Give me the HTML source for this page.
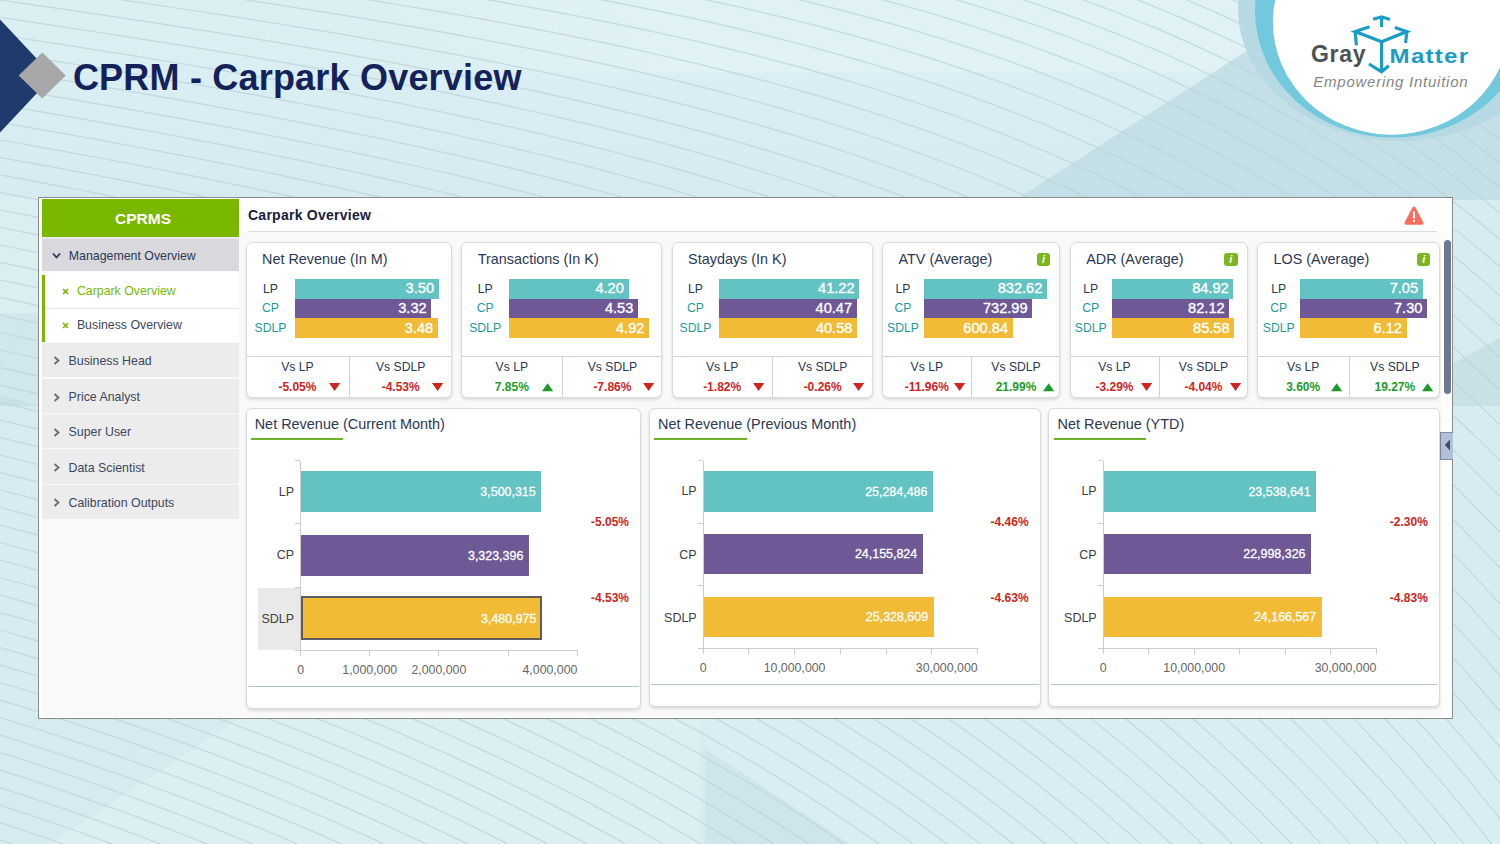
<!DOCTYPE html>
<html><head><meta charset="utf-8"><style>
html,body{margin:0;padding:0;}
body{width:1500px;height:844px;position:relative;overflow:hidden;font-family:"Liberation Sans", sans-serif;background:#d8edf2;}
</style></head><body>
<svg width="1500" height="844" style="position:absolute;left:0;top:0">
<defs><linearGradient id="tg" x1="0" y1="0" x2="0" y2="1"><stop offset="0" stop-color="#dcf0f4"/><stop offset="1" stop-color="#d6ebf0"/></linearGradient></defs>
<rect width="1500" height="844" fill="#d7ecf1"/>
<rect width="1500" height="200" fill="url(#tg)"/>
<defs><linearGradient id="bandg" x1="0" y1="0" x2="1" y2="0"><stop offset="0" stop-color="#e0f2f6" stop-opacity="0"/><stop offset="0.35" stop-color="#e0f2f6" stop-opacity="1"/></linearGradient></defs>
<polygon points="350,0 1300,0 1300,72 350,72" fill="url(#bandg)"/>
<polygon points="1020,197 1256,45 1500,45 1500,200 1020,200" fill="#c4dfe6"/>
<rect x="0" y="197" width="38" height="116" fill="#dbeff3"/>
<rect x="0" y="313" width="38" height="93" fill="#d0e7ed"/>
<polygon points="0,395 38,406 0,406" fill="#c8e1e7"/>
<polygon points="1452,314 1500,314 1500,338 1452,364" fill="#d5ebf0"/>
<polygon points="1452,364 1500,338 1500,406 1452,406" fill="#c7e1e7"/>
<polygon points="240,718 700,718 700,844 50,844" fill="#dcf0f4"/>
<polygon points="0,718 240,718 50,844 0,844" fill="#d5ebf0"/>
<polygon points="705,748 705,844 850,844" fill="#cde5eb"/>
<polygon points="850,844 1500,844 1500,718 700,718 705,748" fill="#d9eef3"/>
<g stroke="#bcd4da" stroke-width="1.2" fill="none" opacity="0.8"><polyline points="0,-367.5 20,-365.0 40,-362.5 60,-360.0 80,-357.5 100,-355.0 120,-352.5 140,-350.0 160,-347.5 180,-344.9 200,-342.4 220,-339.9 240,-337.4 260,-334.8 280,-332.2 300,-329.7 320,-327.1 340,-324.5 360,-321.8 380,-319.2 400,-316.5 420,-313.8 440,-311.0 460,-308.3 480,-305.5 500,-302.6 520,-299.7 540,-296.7 560,-293.7 580,-290.7 600,-287.6 620,-284.4 640,-281.1 660,-277.8 680,-274.4 700,-270.9 720,-267.4 740,-263.7 760,-259.9 780,-256.1 800,-252.1 820,-248.0 840,-243.8 860,-239.5 880,-235.0 900,-230.4 920,-225.7 940,-220.8 960,-215.7 980,-210.5 1000,-205.1 1020,-199.5 1040,-193.8 1060,-187.9 1080,-181.7 1100,-175.4 1120,-168.8 1140,-162.0 1160,-155.0 1180,-147.7 1200,-140.2 1220,-132.4 1240,-124.4 1260,-116.1 1280,-107.5 1300,-98.6 1320,-89.5 1340,-80.0 1360,-70.1 1380,-59.8 1400,-49.0 1420,-37.7 1440,-25.8 1460,-13.5 1480,-0.5 1500,13.0"/><polyline points="0,-350.0 20,-347.5 40,-345.0 60,-342.5 80,-340.0 100,-337.5 120,-335.0 140,-332.5 160,-330.0 180,-327.4 200,-324.9 220,-322.4 240,-319.9 260,-317.3 280,-314.7 300,-312.2 320,-309.6 340,-307.0 360,-304.3 380,-301.7 400,-299.0 420,-296.3 440,-293.5 460,-290.8 480,-288.0 500,-285.1 520,-282.2 540,-279.2 560,-276.2 580,-273.2 600,-270.1 620,-266.9 640,-263.6 660,-260.3 680,-256.9 700,-253.4 720,-249.9 740,-246.2 760,-242.4 780,-238.6 800,-234.6 820,-230.5 840,-226.3 860,-222.0 880,-217.5 900,-212.9 920,-208.2 940,-203.3 960,-198.2 980,-193.0 1000,-187.6 1020,-182.0 1040,-176.3 1060,-170.4 1080,-164.2 1100,-157.9 1120,-151.3 1140,-144.5 1160,-137.5 1180,-130.2 1200,-122.7 1220,-114.9 1240,-106.9 1260,-98.6 1280,-90.0 1300,-81.1 1320,-71.9 1340,-62.3 1360,-52.2 1380,-41.6 1400,-30.6 1420,-19.0 1440,-6.9 1460,5.7 1480,19.0 1500,32.8"/><polyline points="0,-332.5 20,-330.0 40,-327.5 60,-325.0 80,-322.5 100,-320.0 120,-317.5 140,-315.0 160,-312.5 180,-309.9 200,-307.4 220,-304.9 240,-302.4 260,-299.8 280,-297.2 300,-294.7 320,-292.1 340,-289.5 360,-286.8 380,-284.2 400,-281.5 420,-278.8 440,-276.0 460,-273.3 480,-270.5 500,-267.6 520,-264.7 540,-261.7 560,-258.7 580,-255.7 600,-252.6 620,-249.4 640,-246.1 660,-242.8 680,-239.4 700,-235.9 720,-232.4 740,-228.7 760,-224.9 780,-221.1 800,-217.1 820,-213.0 840,-208.8 860,-204.5 880,-200.0 900,-195.4 920,-190.7 940,-185.8 960,-180.7 980,-175.5 1000,-170.1 1020,-164.5 1040,-158.8 1060,-152.9 1080,-146.7 1100,-140.4 1120,-133.8 1140,-127.0 1160,-120.0 1180,-112.7 1200,-105.2 1220,-97.4 1240,-89.4 1260,-81.1 1280,-72.5 1300,-63.5 1320,-54.0 1340,-44.2 1360,-33.8 1380,-23.0 1400,-11.7 1420,0.1 1440,12.5 1460,25.4 1480,39.0 1500,53.1"/><polyline points="0,-315.0 20,-312.5 40,-310.0 60,-307.5 80,-305.0 100,-302.5 120,-300.0 140,-297.5 160,-295.0 180,-292.4 200,-289.9 220,-287.4 240,-284.9 260,-282.3 280,-279.7 300,-277.2 320,-274.6 340,-272.0 360,-269.3 380,-266.7 400,-264.0 420,-261.3 440,-258.5 460,-255.8 480,-253.0 500,-250.1 520,-247.2 540,-244.2 560,-241.2 580,-238.2 600,-235.1 620,-231.9 640,-228.6 660,-225.3 680,-221.9 700,-218.4 720,-214.9 740,-211.2 760,-207.4 780,-203.6 800,-199.6 820,-195.5 840,-191.3 860,-187.0 880,-182.5 900,-177.9 920,-173.2 940,-168.3 960,-163.2 980,-158.0 1000,-152.6 1020,-147.0 1040,-141.3 1060,-135.4 1080,-129.2 1100,-122.9 1120,-116.3 1140,-109.5 1160,-102.5 1180,-95.2 1200,-87.7 1220,-79.9 1240,-71.9 1260,-63.4 1280,-54.6 1300,-45.3 1320,-35.7 1340,-25.5 1360,-15.0 1380,-3.9 1400,7.7 1420,19.8 1440,32.5 1460,45.7 1480,59.5 1500,73.9"/><polyline points="0,-297.5 20,-295.0 40,-292.5 60,-290.0 80,-287.5 100,-285.0 120,-282.5 140,-280.0 160,-277.5 180,-274.9 200,-272.4 220,-269.9 240,-267.4 260,-264.8 280,-262.2 300,-259.7 320,-257.1 340,-254.5 360,-251.8 380,-249.2 400,-246.5 420,-243.8 440,-241.0 460,-238.3 480,-235.5 500,-232.6 520,-229.7 540,-226.7 560,-223.7 580,-220.7 600,-217.6 620,-214.4 640,-211.1 660,-207.8 680,-204.4 700,-200.9 720,-197.4 740,-193.7 760,-189.9 780,-186.1 800,-182.1 820,-178.0 840,-173.8 860,-169.5 880,-165.0 900,-160.4 920,-155.7 940,-150.8 960,-145.7 980,-140.5 1000,-135.1 1020,-129.5 1040,-123.8 1060,-117.9 1080,-111.7 1100,-105.4 1120,-98.8 1140,-92.0 1160,-85.0 1180,-77.7 1200,-70.1 1220,-62.2 1240,-53.9 1260,-45.3 1280,-36.2 1300,-26.7 1320,-16.8 1340,-6.4 1360,4.4 1380,15.8 1400,27.6 1420,40.0 1440,53.0 1460,66.5 1480,80.6 1500,95.3"/><polyline points="0,-280.0 20,-277.5 40,-275.0 60,-272.5 80,-270.0 100,-267.5 120,-265.0 140,-262.5 160,-260.0 180,-257.4 200,-254.9 220,-252.4 240,-249.9 260,-247.3 280,-244.7 300,-242.2 320,-239.6 340,-237.0 360,-234.3 380,-231.7 400,-229.0 420,-226.3 440,-223.5 460,-220.8 480,-218.0 500,-215.1 520,-212.2 540,-209.2 560,-206.2 580,-203.2 600,-200.1 620,-196.9 640,-193.6 660,-190.3 680,-186.9 700,-183.4 720,-179.9 740,-176.2 760,-172.4 780,-168.6 800,-164.6 820,-160.5 840,-156.3 860,-152.0 880,-147.5 900,-142.9 920,-138.2 940,-133.3 960,-128.2 980,-123.0 1000,-117.6 1020,-112.0 1040,-106.3 1060,-100.4 1080,-94.2 1100,-87.9 1120,-81.3 1140,-74.5 1160,-67.4 1180,-59.9 1200,-52.1 1220,-44.0 1240,-35.5 1260,-26.6 1280,-17.3 1300,-7.5 1320,2.7 1340,13.3 1360,24.4 1380,36.0 1400,48.2 1420,60.9 1440,74.1 1460,87.9 1480,102.3 1500,117.3"/><polyline points="0,-262.5 20,-260.0 40,-257.5 60,-255.0 80,-252.5 100,-250.0 120,-247.5 140,-245.0 160,-242.5 180,-239.9 200,-237.4 220,-234.9 240,-232.4 260,-229.8 280,-227.2 300,-224.7 320,-222.1 340,-219.5 360,-216.8 380,-214.2 400,-211.5 420,-208.8 440,-206.0 460,-203.3 480,-200.5 500,-197.6 520,-194.7 540,-191.7 560,-188.7 580,-185.7 600,-182.6 620,-179.4 640,-176.1 660,-172.8 680,-169.4 700,-165.9 720,-162.4 740,-158.7 760,-154.9 780,-151.1 800,-147.1 820,-143.0 840,-138.8 860,-134.5 880,-130.0 900,-125.4 920,-120.7 940,-115.8 960,-110.7 980,-105.5 1000,-100.1 1020,-94.5 1040,-88.8 1060,-82.9 1080,-76.7 1100,-70.3 1120,-63.6 1140,-56.6 1160,-49.3 1180,-41.6 1200,-33.6 1220,-25.2 1240,-16.4 1260,-7.3 1280,2.3 1300,12.3 1320,22.7 1340,33.6 1360,45.0 1380,56.9 1400,69.4 1420,82.3 1440,95.9 1460,110.0 1480,124.7 1500,140.1"/><polyline points="0,-245.0 20,-242.5 40,-240.0 60,-237.5 80,-235.0 100,-232.5 120,-230.0 140,-227.5 160,-225.0 180,-222.4 200,-219.9 220,-217.4 240,-214.9 260,-212.3 280,-209.7 300,-207.2 320,-204.6 340,-202.0 360,-199.3 380,-196.7 400,-194.0 420,-191.3 440,-188.5 460,-185.8 480,-183.0 500,-180.1 520,-177.2 540,-174.2 560,-171.2 580,-168.2 600,-165.1 620,-161.9 640,-158.6 660,-155.3 680,-151.9 700,-148.4 720,-144.9 740,-141.2 760,-137.4 780,-133.6 800,-129.6 820,-125.5 840,-121.3 860,-117.0 880,-112.5 900,-107.9 920,-103.2 940,-98.3 960,-93.2 980,-88.0 1000,-82.6 1020,-77.0 1040,-71.2 1060,-65.2 1080,-58.9 1100,-52.2 1120,-45.3 1140,-38.1 1160,-30.5 1180,-22.6 1200,-14.4 1220,-5.8 1240,3.2 1260,12.6 1280,22.5 1300,32.7 1320,43.5 1340,54.7 1360,66.3 1380,78.5 1400,91.3 1420,104.5 1440,118.4 1460,132.8 1480,147.9 1500,163.6"/><polyline points="0,-227.5 20,-225.0 40,-222.5 60,-220.0 80,-217.5 100,-215.0 120,-212.5 140,-210.0 160,-207.5 180,-204.9 200,-202.4 220,-199.9 240,-197.4 260,-194.8 280,-192.2 300,-189.7 320,-187.1 340,-184.5 360,-181.8 380,-179.2 400,-176.5 420,-173.8 440,-171.0 460,-168.3 480,-165.5 500,-162.6 520,-159.7 540,-156.7 560,-153.7 580,-150.7 600,-147.6 620,-144.4 640,-141.1 660,-137.8 680,-134.4 700,-130.9 720,-127.4 740,-123.7 760,-119.9 780,-116.1 800,-112.1 820,-108.0 840,-103.8 860,-99.5 880,-95.0 900,-90.4 920,-85.7 940,-80.8 960,-75.7 980,-70.4 1000,-64.9 1020,-59.2 1040,-53.2 1060,-46.9 1080,-40.4 1100,-33.5 1120,-26.4 1140,-18.9 1160,-11.1 1180,-3.0 1200,5.5 1220,14.4 1240,23.6 1260,33.3 1280,43.4 1300,53.9 1320,65.0 1340,76.4 1360,88.4 1380,100.9 1400,113.9 1420,127.5 1440,141.7 1460,156.5 1480,171.9 1500,188.0"/><polyline points="0,-210.0 20,-207.5 40,-205.0 60,-202.5 80,-200.0 100,-197.5 120,-195.0 140,-192.5 160,-190.0 180,-187.4 200,-184.9 220,-182.4 240,-179.9 260,-177.3 280,-174.7 300,-172.2 320,-169.6 340,-167.0 360,-164.3 380,-161.7 400,-159.0 420,-156.3 440,-153.5 460,-150.8 480,-148.0 500,-145.1 520,-142.2 540,-139.2 560,-136.2 580,-133.2 600,-130.1 620,-126.9 640,-123.6 660,-120.3 680,-116.9 700,-113.4 720,-109.9 740,-106.2 760,-102.4 780,-98.6 800,-94.6 820,-90.5 840,-86.3 860,-82.0 880,-77.5 900,-72.9 920,-68.1 940,-63.0 960,-57.8 980,-52.3 1000,-46.6 1020,-40.7 1040,-34.4 1060,-28.0 1080,-21.2 1100,-14.1 1120,-6.8 1140,0.9 1160,9.0 1180,17.4 1200,26.1 1220,35.3 1240,44.8 1260,54.7 1280,65.1 1300,76.0 1320,87.3 1340,99.0 1360,111.3 1380,124.1 1400,137.5 1420,151.4 1440,165.9 1460,181.1 1480,196.8 1500,213.2"/><polyline points="0,-192.5 20,-190.0 40,-187.5 60,-185.0 80,-182.5 100,-180.0 120,-177.5 140,-175.0 160,-172.5 180,-169.9 200,-167.4 220,-164.9 240,-162.4 260,-159.8 280,-157.2 300,-154.7 320,-152.1 340,-149.5 360,-146.8 380,-144.2 400,-141.5 420,-138.8 440,-136.0 460,-133.3 480,-130.5 500,-127.6 520,-124.7 540,-121.7 560,-118.7 580,-115.7 600,-112.6 620,-109.4 640,-106.1 660,-102.8 680,-99.4 700,-95.9 720,-92.4 740,-88.7 760,-84.9 780,-81.1 800,-77.1 820,-73.0 840,-68.7 860,-64.3 880,-59.6 900,-54.8 920,-49.8 940,-44.6 960,-39.1 980,-33.4 1000,-27.5 1020,-21.4 1040,-14.9 1060,-8.2 1080,-1.2 1100,6.1 1120,13.7 1140,21.7 1160,29.9 1180,38.6 1200,47.6 1220,57.0 1240,66.8 1260,77.1 1280,87.7 1300,98.9 1320,110.5 1340,122.6 1360,135.2 1380,148.3 1400,162.0 1420,176.3 1440,191.2 1460,206.7 1480,222.8 1500,239.6"/><polyline points="0,-175.0 20,-172.5 40,-170.0 60,-167.5 80,-165.0 100,-162.5 120,-160.0 140,-157.5 160,-155.0 180,-152.4 200,-149.9 220,-147.4 240,-144.9 260,-142.3 280,-139.7 300,-137.2 320,-134.6 340,-132.0 360,-129.3 380,-126.7 400,-124.0 420,-121.3 440,-118.5 460,-115.8 480,-113.0 500,-110.1 520,-107.2 540,-104.2 560,-101.2 580,-98.2 600,-95.1 620,-91.9 640,-88.6 660,-85.3 680,-81.9 700,-78.4 720,-74.9 740,-71.1 760,-67.3 780,-63.3 800,-59.2 820,-54.9 840,-50.4 860,-45.8 880,-41.0 900,-35.9 920,-30.7 940,-25.3 960,-19.6 980,-13.7 1000,-7.6 1020,-1.2 1040,5.5 1060,12.4 1080,19.6 1100,27.2 1120,35.1 1140,43.3 1160,51.8 1180,60.8 1200,70.0 1220,79.7 1240,89.8 1260,100.4 1280,111.4 1300,122.8 1320,134.7 1340,147.2 1360,160.1 1380,173.6 1400,187.6 1420,202.3 1440,217.5 1460,233.4 1480,249.9 1500,267.1"/><polyline points="0,-157.5 20,-155.0 40,-152.5 60,-150.0 80,-147.5 100,-145.0 120,-142.5 140,-140.0 160,-137.5 180,-134.9 200,-132.4 220,-129.9 240,-127.4 260,-124.8 280,-122.2 300,-119.7 320,-117.1 340,-114.5 360,-111.8 380,-109.2 400,-106.5 420,-103.8 440,-101.0 460,-98.3 480,-95.5 500,-92.6 520,-89.7 540,-86.7 560,-83.7 580,-80.7 600,-77.6 620,-74.4 640,-71.1 660,-67.7 680,-64.2 700,-60.5 720,-56.8 740,-52.9 760,-48.9 780,-44.7 800,-40.4 820,-35.9 840,-31.3 860,-26.4 880,-21.4 900,-16.2 920,-10.8 940,-5.1 960,0.8 980,6.9 1000,13.2 1020,19.9 1040,26.8 1060,34.0 1080,41.5 1100,49.3 1120,57.4 1140,65.9 1160,74.7 1180,83.9 1200,93.5 1220,103.5 1240,113.9 1260,124.8 1280,136.1 1300,147.8 1320,160.1 1340,172.9 1360,186.2 1380,200.0 1400,214.4 1420,229.4 1440,245.1 1460,261.3 1480,278.2 1500,295.8"/><polyline points="0,-140.0 20,-137.5 40,-135.0 60,-132.5 80,-130.0 100,-127.5 120,-125.0 140,-122.5 160,-120.0 180,-117.4 200,-114.9 220,-112.4 240,-109.9 260,-107.3 280,-104.7 300,-102.2 320,-99.6 340,-97.0 360,-94.3 380,-91.7 400,-89.0 420,-86.3 440,-83.5 460,-80.8 480,-78.0 500,-75.1 520,-72.2 540,-69.1 560,-66.1 580,-62.9 600,-59.6 620,-56.3 640,-52.8 660,-49.3 680,-45.6 700,-41.8 720,-37.9 740,-33.8 760,-29.6 780,-25.2 800,-20.7 820,-16.1 840,-11.2 860,-6.2 880,-0.9 900,4.5 920,10.2 940,16.0 960,22.1 980,28.5 1000,35.1 1020,42.0 1040,49.2 1060,56.6 1080,64.4 1100,72.5 1120,80.9 1140,89.6 1160,98.8 1180,108.3 1200,118.2 1220,128.5 1240,139.2 1260,150.4 1280,162.0 1300,174.1 1320,186.7 1340,199.8 1360,213.5 1380,227.7 1400,242.5 1420,257.9 1440,274.0 1460,290.6 1480,308.0 1500,326.0"/><polyline points="0,-122.5 20,-120.0 40,-117.5 60,-115.0 80,-112.5 100,-110.0 120,-107.5 140,-105.0 160,-102.5 180,-99.9 200,-97.4 220,-94.9 240,-92.4 260,-89.8 280,-87.2 300,-84.7 320,-82.1 340,-79.5 360,-76.8 380,-74.2 400,-71.4 420,-68.7 440,-65.8 460,-63.0 480,-60.0 500,-57.0 520,-53.9 540,-50.8 560,-47.5 580,-44.2 600,-40.8 620,-37.3 640,-33.7 660,-29.9 680,-26.1 700,-22.1 720,-18.0 740,-13.8 760,-9.4 780,-4.8 800,-0.1 820,4.8 840,9.9 860,15.1 880,20.6 900,26.2 920,32.1 940,38.2 960,44.6 980,51.2 1000,58.0 1020,65.2 1040,72.6 1060,80.3 1080,88.4 1100,96.8 1120,105.5 1140,114.5 1160,124.0 1180,133.8 1200,144.0 1220,154.6 1240,165.7 1260,177.2 1280,189.2 1300,201.7 1320,214.6 1340,228.1 1360,242.2 1380,256.8 1400,272.0 1420,287.8 1440,304.3 1460,321.4 1480,339.2 1500,357.7"/><polyline points="0,-105.0 20,-102.5 40,-100.0 60,-97.5 80,-95.0 100,-92.5 120,-90.0 140,-87.5 160,-85.0 180,-82.4 200,-79.9 220,-77.4 240,-74.8 260,-72.3 280,-69.7 300,-67.0 320,-64.3 340,-61.6 360,-58.9 380,-56.1 400,-53.2 420,-50.3 440,-47.4 460,-44.4 480,-41.3 500,-38.1 520,-34.9 540,-31.6 560,-28.2 580,-24.7 600,-21.1 620,-17.4 640,-13.6 660,-9.7 680,-5.7 700,-1.5 720,2.8 740,7.2 760,11.8 780,16.6 800,21.5 820,26.6 840,31.9 860,37.4 880,43.1 900,49.0 920,55.1 940,61.4 960,68.1 980,74.9 1000,82.0 1020,89.5 1040,97.2 1060,105.2 1080,113.5 1100,122.2 1120,131.2 1140,140.6 1160,150.3 1180,160.5 1200,171.0 1220,182.0 1240,193.4 1260,205.3 1280,217.6 1300,230.5 1320,243.8 1340,257.7 1360,272.2 1380,287.2 1400,302.8 1420,319.1 1440,336.0 1460,353.5 1480,371.8 1500,390.8"/><polyline points="0,-87.5 20,-85.0 40,-82.5 60,-80.0 80,-77.5 100,-75.0 120,-72.5 140,-69.9 160,-67.3 180,-64.8 200,-62.2 220,-59.5 240,-56.9 260,-54.2 280,-51.4 300,-48.7 320,-45.9 340,-43.1 360,-40.2 380,-37.2 400,-34.3 420,-31.2 440,-28.1 460,-25.0 480,-21.7 500,-18.4 520,-15.0 540,-11.6 560,-8.0 580,-4.3 600,-0.6 620,3.3 640,7.3 660,11.4 680,15.6 700,19.9 720,24.4 740,29.1 760,33.9 780,38.9 800,44.0 820,49.3 840,54.9 860,60.6 880,66.5 900,72.6 920,79.0 940,85.6 960,92.5 980,99.6 1000,107.1 1020,114.8 1040,122.8 1060,131.1 1080,139.7 1100,148.7 1120,158.0 1140,167.7 1160,177.8 1180,188.3 1200,199.2 1220,210.5 1240,222.3 1260,234.5 1280,247.3 1300,260.5 1320,274.3 1340,288.6 1360,303.5 1380,318.9 1400,335.0 1420,351.7 1440,369.0 1460,387.1 1480,405.8 1500,425.3"/><polyline points="0,-70.0 20,-67.5 40,-64.9 60,-62.3 80,-59.7 100,-57.1 120,-54.5 140,-51.9 160,-49.2 180,-46.5 200,-43.8 220,-41.1 240,-38.3 260,-35.5 280,-32.6 300,-29.8 320,-26.8 340,-23.9 360,-20.9 380,-17.8 400,-14.7 420,-11.5 440,-8.2 460,-4.9 480,-1.5 500,1.9 520,5.5 540,9.1 560,12.8 580,16.7 600,20.6 620,24.7 640,28.8 660,33.1 680,37.5 700,42.1 720,46.8 740,51.7 760,56.7 780,61.9 800,67.2 820,72.8 840,78.6 860,84.5 880,90.7 900,97.1 920,103.7 940,110.6 960,117.8 980,125.2 1000,132.9 1020,140.9 1040,149.2 1060,157.8 1080,166.7 1100,176.0 1120,185.7 1140,195.7 1160,206.2 1180,217.0 1200,228.3 1220,240.0 1240,252.1 1260,264.7 1280,277.9 1300,291.5 1320,305.7 1340,320.4 1360,335.7 1380,351.7 1400,368.2 1420,385.3 1440,403.2 1460,421.7 1480,440.9 1500,460.9"/><polyline points="0,-52.5 20,-49.9 40,-47.2 60,-44.6 80,-41.9 100,-39.2 120,-36.5 140,-33.7 160,-31.0 180,-28.2 200,-25.4 220,-22.5 240,-19.6 260,-16.7 280,-13.8 300,-10.7 320,-7.7 340,-4.6 360,-1.5 380,1.7 400,5.0 420,8.3 440,11.7 460,15.2 480,18.7 500,22.4 520,26.1 540,29.9 560,33.8 580,37.8 600,41.9 620,46.1 640,50.5 660,55.0 680,59.6 700,64.4 720,69.3 740,74.3 760,79.6 780,85.0 800,90.6 820,96.4 840,102.4 860,108.6 880,115.0 900,121.7 920,128.6 940,135.7 960,143.1 980,150.8 1000,158.8 1020,167.1 1040,175.7 1060,184.6 1080,193.9 1100,203.5 1120,213.5 1140,223.9 1160,234.7 1180,245.9 1200,257.5 1220,269.5 1240,282.1 1260,295.1 1280,308.6 1300,322.7 1320,337.3 1340,352.4 1360,368.2 1380,384.5 1400,401.5 1420,419.2 1440,437.5 1460,456.5 1480,476.2 1500,496.7"/><polyline points="0,-35.0 20,-32.3 40,-29.6 60,-26.8 80,-24.1 100,-21.3 120,-18.5 140,-15.6 160,-12.8 180,-9.9 200,-6.9 220,-4.0 240,-1.0 260,2.1 280,5.1 300,8.3 320,11.4 340,14.7 360,17.9 380,21.3 400,24.7 420,28.2 440,31.7 460,35.3 480,39.0 500,42.8 520,46.7 540,50.7 560,54.7 580,58.9 600,63.2 620,67.6 640,72.2 660,76.8 680,81.7 700,86.6 720,91.7 740,97.0 760,102.5 780,108.1 800,114.0 820,120.0 840,126.2 860,132.7 880,139.3 900,146.3 920,153.4 940,160.8 960,168.5 980,176.5 1000,184.8 1020,193.4 1040,202.3 1060,211.5 1080,221.1 1100,231.0 1120,241.3 1140,252.0 1160,263.2 1180,274.7 1200,286.7 1220,299.1 1240,312.1 1260,325.5 1280,339.4 1300,353.9 1320,368.9 1340,384.5 1360,400.6 1380,417.4 1400,434.9 1420,453.0 1440,471.8 1460,491.3 1480,511.5 1500,532.5"/><polyline points="0,-17.5 20,-14.7 40,-11.9 60,-9.1 80,-6.2 100,-3.3 120,-0.4 140,2.5 160,5.5 180,8.5 200,11.5 220,14.6 240,17.7 260,20.8 280,24.0 300,27.3 320,30.6 340,33.9 360,37.4 380,40.8 400,44.4 420,48.0 440,51.7 460,55.4 480,59.3 500,63.2 520,67.3 540,71.4 560,75.7 580,80.0 600,84.5 620,89.1 640,93.8 660,98.7 680,103.7 700,108.9 720,114.2 740,119.7 760,125.4 780,131.2 800,137.3 820,143.6 840,150.0 860,156.7 880,163.7 900,170.8 920,178.3 940,185.9 960,193.9 980,202.2 1000,210.7 1020,219.6 1040,228.8 1060,238.3 1080,248.2 1100,258.5 1120,269.2 1140,280.2 1160,291.7 1180,303.6 1200,315.9 1220,328.7 1240,342.0 1260,355.8 1280,370.2 1300,385.0 1320,400.5 1340,416.5 1360,433.1 1380,450.3 1400,468.2 1420,486.8 1440,506.1 1460,526.1 1480,546.8 1500,568.3"/><polyline points="0,0.0 20,2.9 40,5.8 60,8.7 80,11.6 100,14.6 120,17.6 140,20.6 160,23.7 180,26.8 200,29.9 220,33.1 240,36.3 260,39.6 280,42.9 300,46.3 320,49.7 340,53.2 360,56.8 380,60.4 400,64.1 420,67.8 440,71.7 460,75.6 480,79.6 500,83.7 520,87.9 540,92.2 560,96.6 580,101.1 600,105.8 620,110.6 640,115.5 660,120.6 680,125.8 700,131.2 720,136.7 740,142.4 760,148.3 780,154.4 800,160.7 820,167.1 840,173.9 860,180.8 880,188.0 900,195.4 920,203.1 940,211.0 960,219.3 980,227.8 1000,236.7 1020,245.8 1040,255.3 1060,265.2 1080,275.4 1100,286.0 1120,297.0 1140,308.4 1160,320.2 1180,332.4 1200,345.1 1220,358.3 1240,372.0 1260,386.2 1280,400.9 1300,416.2 1320,432.0 1340,448.5 1360,465.5 1380,483.2 1400,501.6 1420,520.6 1440,540.4 1460,560.8 1480,582.1 1500,604.1"/><polyline points="0,17.5 20,20.4 40,23.4 60,26.4 80,29.5 100,32.5 120,35.6 140,38.8 160,41.9 180,45.1 200,48.4 220,51.7 240,55.0 260,58.4 280,61.8 300,65.3 320,68.9 340,72.5 360,76.2 380,79.9 400,83.7 420,87.6 440,91.6 460,95.7 480,99.9 500,104.1 520,108.5 540,113.0 560,117.6 580,122.3 600,127.1 620,132.1 640,137.2 660,142.4 680,147.8 700,153.4 720,159.2 740,165.1 760,171.2 780,177.5 800,184.0 820,190.7 840,197.7 860,204.9 880,212.3 900,220.0 920,227.9 940,236.2 960,244.7 980,253.5 1000,262.6 1020,272.1 1040,281.9 1060,292.0 1080,302.6 1100,313.5 1120,324.8 1140,336.5 1160,348.7 1180,361.3 1200,374.4 1220,387.9 1240,402.0 1260,416.6 1280,431.7 1300,447.4 1320,463.6 1340,480.5 1360,498.0 1380,516.1 1400,534.9 1420,554.4 1440,574.7 1460,595.6 1480,617.4 1500,639.9"/><polyline points="0,35.0 20,38.0 40,41.1 60,44.2 80,47.3 100,50.5 120,53.6 140,56.9 160,60.1 180,63.5 200,66.8 220,70.2 240,73.7 260,77.2 280,80.7 300,84.3 320,88.0 340,91.8 360,95.6 380,99.5 400,103.4 420,107.5 440,111.6 460,115.8 480,120.1 500,124.6 520,129.1 540,133.7 560,138.5 580,143.4 600,148.4 620,153.5 640,158.8 660,164.3 680,169.9 700,175.7 720,181.6 740,187.8 760,194.1 780,200.6 800,207.4 820,214.3 840,221.5 860,228.9 880,236.6 900,244.6 920,252.8 940,261.3 960,270.1 980,279.2 1000,288.6 1020,298.3 1040,308.4 1060,318.9 1080,329.7 1100,341.0 1120,352.6 1140,364.7 1160,377.2 1180,390.1 1200,403.6 1220,417.5 1240,431.9 1260,446.9 1280,462.4 1300,478.5 1320,495.2 1340,512.5 1360,530.4 1380,549.0 1400,568.3 1420,588.2 1440,609.0 1460,630.4 1480,652.7 1500,675.7"/><polyline points="0,52.5 20,55.6 40,58.8 60,61.9 80,65.1 100,68.4 120,71.7 140,75.0 160,78.4 180,81.8 200,85.2 220,88.8 240,92.3 260,95.9 280,99.6 300,103.4 320,107.2 340,111.0 360,115.0 380,119.0 400,123.1 420,127.3 440,131.6 460,136.0 480,140.4 500,145.0 520,149.7 540,154.5 560,159.4 580,164.5 600,169.7 620,175.0 640,180.5 660,186.2 680,192.0 700,197.9 720,204.1 740,210.4 760,217.0 780,223.7 800,230.7 820,237.9 840,245.3 860,253.0 880,260.9 900,269.1 920,277.6 940,286.4 960,295.4 980,304.8 1000,314.5 1020,324.6 1040,335.0 1060,345.8 1080,356.9 1100,368.5 1120,380.4 1140,392.8 1160,405.7 1180,419.0 1200,432.8 1220,447.1 1240,461.9 1260,477.3 1280,493.2 1300,509.7 1320,526.8 1340,544.5 1360,562.9 1380,581.9 1400,601.6 1420,622.1 1440,643.3 1460,665.2 1480,688.0 1500,711.5"/><polyline points="0,70.0 20,73.2 40,76.4 60,79.7 80,83.0 100,86.3 120,89.7 140,93.1 160,96.6 180,100.1 200,103.7 220,107.3 240,111.0 260,114.7 280,118.5 300,122.4 320,126.3 340,130.3 360,134.4 380,138.5 400,142.8 420,147.1 440,151.6 460,156.1 480,160.7 500,165.4 520,170.3 540,175.3 560,180.4 580,185.6 600,191.0 620,196.5 640,202.2 660,208.0 680,214.0 700,220.2 720,226.6 740,233.1 760,239.9 780,246.9 800,254.1 820,261.5 840,269.2 860,277.1 880,285.3 900,293.7 920,302.4 940,311.5 960,320.8 980,330.5 1000,340.5 1020,350.8 1040,361.5 1060,372.6 1080,384.1 1100,396.0 1120,408.3 1140,421.0 1160,434.2 1180,447.9 1200,462.0 1220,476.7 1240,491.9 1260,507.6 1280,523.9 1300,540.9 1320,558.4 1340,576.5 1360,595.3 1380,614.8 1400,635.0 1420,655.9 1440,677.6 1460,700.0 1480,723.3 1500,747.4"/><polyline points="0,87.5 20,90.8 40,94.1 60,97.4 80,100.8 100,104.3 120,107.7 140,111.3 160,114.8 180,118.4 200,122.1 220,125.9 240,129.6 260,133.5 280,137.4 300,141.4 320,145.5 340,149.6 360,153.8 380,158.1 400,162.5 420,167.0 440,171.5 460,176.2 480,181.0 500,185.9 520,190.9 540,196.0 560,201.3 580,206.7 600,212.3 620,218.0 640,223.9 660,229.9 680,236.1 700,242.5 720,249.0 740,255.8 760,262.8 780,270.0 800,277.4 820,285.1 840,293.0 860,301.1 880,309.6 900,318.3 920,327.3 940,336.6 960,346.2 980,356.1 1000,366.4 1020,377.1 1040,388.1 1060,399.5 1080,411.2 1100,423.5 1120,436.1 1140,449.2 1160,462.7 1180,476.7 1200,491.2 1220,506.3 1240,521.9 1260,538.0 1280,554.7 1300,572.0 1320,589.9 1340,608.5 1360,627.8 1380,647.7 1400,668.3 1420,689.7 1440,711.8 1460,734.8 1480,758.5 1500,783.2"/><polyline points="0,105.0 20,108.4 40,111.7 60,115.2 80,118.7 100,122.2 120,125.8 140,129.4 160,133.0 180,136.8 200,140.6 220,144.4 240,148.3 260,152.3 280,156.3 300,160.4 320,164.6 340,168.9 360,173.2 380,177.6 400,182.2 420,186.8 440,191.5 460,196.3 480,201.3 500,206.3 520,211.5 540,216.8 560,222.3 580,227.8 600,233.6 620,239.5 640,245.5 660,251.7 680,258.1 700,264.7 720,271.5 740,278.5 760,285.7 780,293.1 800,300.8 820,308.7 840,316.8 860,325.2 880,333.9 900,342.9 920,352.1 940,361.7 960,371.6 980,381.8 1000,392.4 1020,403.3 1040,414.6 1060,426.3 1080,438.4 1100,450.9 1120,463.9 1140,477.3 1160,491.2 1180,505.6 1200,520.5 1220,535.9 1240,551.8 1260,568.4 1280,585.5 1300,603.2 1320,621.5 1340,640.5 1360,660.2 1380,680.6 1400,701.7 1420,723.5 1440,746.1 1460,769.6 1480,793.8 1500,819.0"/><polyline points="0,122.5 20,125.9 40,129.4 60,132.9 80,136.5 100,140.1 120,143.8 140,147.5 160,151.3 180,155.1 200,159.0 220,162.9 240,167.0 260,171.0 280,175.2 300,179.4 320,183.7 340,188.1 360,192.6 380,197.2 400,201.8 420,206.6 440,211.5 460,216.5 480,221.6 500,226.8 520,232.1 540,237.6 560,243.2 580,249.0 600,254.9 620,261.0 640,267.2 660,273.6 680,280.2 700,287.0 720,294.0 740,301.2 760,308.6 780,316.2 800,324.1 820,332.2 840,340.6 860,349.3 880,358.2 900,367.4 920,377.0 940,386.8 960,397.0 980,407.5 1000,418.3 1020,429.5 1040,441.2 1060,453.2 1080,465.6 1100,478.4 1120,491.7 1140,505.5 1160,519.7 1180,534.4 1200,549.7 1220,565.5 1240,581.8 1260,598.7 1280,616.2 1300,634.3 1320,653.1 1340,672.5 1360,692.6 1380,713.5 1400,735.0 1420,757.3 1440,780.4 1460,804.4 1480,829.1 1500,854.7"/><polyline points="0,140.0 20,143.5 40,147.1 60,150.7 80,154.3 100,158.0 120,161.8 140,165.6 160,169.5 180,173.4 200,177.4 220,181.5 240,185.6 260,189.8 280,194.1 300,198.4 320,202.9 340,207.4 360,212.0 380,216.7 400,221.5 420,226.4 440,231.5 460,236.6 480,241.8 500,247.2 520,252.7 540,258.4 560,264.1 580,270.1 600,276.2 620,282.4 640,288.9 660,295.5 680,302.3 700,309.3 720,316.5 740,323.9 760,331.5 780,339.4 800,347.5 820,355.8 840,364.5 860,373.3 880,382.5 900,392.0 920,401.8 940,411.9 960,422.3 980,433.1 1000,444.3 1020,455.8 1040,467.7 1060,480.0 1080,492.8 1100,505.9 1120,519.5 1140,533.6 1160,548.2 1180,563.3 1200,578.9 1220,595.1 1240,611.8 1260,629.1 1280,647.0 1300,665.5 1320,684.7 1340,704.5 1360,725.1 1380,746.4 1400,768.4 1420,791.2 1440,814.7 1460,839.2 1480,864.3 1500,890.0"/><polyline points="0,157.5 20,161.1 40,164.7 60,168.4 80,172.2 100,176.0 120,179.8 140,183.8 160,187.7 180,191.8 200,195.9 220,200.0 240,204.3 260,208.6 280,213.0 300,217.5 320,222.0 340,226.7 360,231.4 380,236.3 400,241.2 420,246.3 440,251.4 460,256.7 480,262.1 500,267.6 520,273.3 540,279.1 560,285.1 580,291.2 600,297.5 620,303.9 640,310.5 660,317.3 680,324.3 700,331.5 720,338.9 740,346.6 760,354.4 780,362.5 800,370.8 820,379.4 840,388.3 860,397.4 880,406.8 900,416.6 920,426.6 940,437.0 960,447.7 980,458.8 1000,470.2 1020,482.0 1040,494.2 1060,506.9 1080,519.9 1100,533.4 1120,547.4 1140,561.8 1160,576.7 1180,592.2 1200,608.1 1220,624.7 1240,641.8 1260,659.4 1280,677.7 1300,696.7 1320,716.3 1340,736.6 1360,757.5 1380,779.2 1400,801.7 1420,825.0 1440,849.0 1460,873.7 1480,898.9 1500,924.6"/><polyline points="0,175.0 20,178.7 40,182.4 60,186.2 80,190.0 100,193.9 120,197.9 140,201.9 160,206.0 180,210.1 200,214.3 220,218.6 240,222.9 260,227.4 280,231.9 300,236.5 320,241.2 340,246.0 360,250.8 380,255.8 400,260.9 420,266.1 440,271.4 460,276.8 480,282.4 500,288.1 520,293.9 540,299.9 560,306.0 580,312.3 600,318.8 620,325.4 640,332.2 660,339.2 680,346.4 700,353.8 720,361.4 740,369.2 760,377.3 780,385.6 800,394.2 820,403.0 840,412.1 860,421.5 880,431.2 900,441.2 920,451.5 940,462.1 960,473.1 980,484.4 1000,496.2 1020,508.3 1040,520.8 1060,533.7 1080,547.1 1100,560.9 1120,575.2 1140,590.0 1160,605.2 1180,621.0 1200,637.4 1220,654.3 1240,671.7 1260,689.8 1280,708.5 1300,727.8 1320,747.9 1340,768.6 1360,790.0 1380,812.1 1400,835.1 1420,858.7 1440,882.9 1460,907.6 1480,932.8 1500,958.5"/><polyline points="0,192.5 20,196.3 40,200.1 60,203.9 80,207.9 100,211.8 120,215.9 140,220.0 160,224.2 180,228.4 200,232.7 220,237.1 240,241.6 260,246.1 280,250.8 300,255.5 320,260.3 340,265.2 360,270.2 380,275.4 400,280.6 420,285.9 440,291.4 460,297.0 480,302.7 500,308.5 520,314.5 540,320.7 560,327.0 580,333.4 600,340.1 620,346.9 640,353.9 660,361.1 680,368.5 700,376.1 720,383.9 740,391.9 760,400.2 780,408.7 800,417.5 820,426.6 840,435.9 860,445.6 880,455.5 900,465.7 920,476.3 940,487.2 960,498.5 980,510.1 1000,522.1 1020,534.5 1040,547.3 1060,560.6 1080,574.3 1100,588.4 1120,603.0 1140,618.1 1160,633.7 1180,649.9 1200,666.6 1220,683.8 1240,701.7 1260,720.2 1280,739.3 1300,759.0 1320,779.4 1340,800.6 1360,822.4 1380,845.0 1400,868.3 1420,892.0 1440,916.2 1460,940.9 1480,966.0 1500,991.7"/><polyline points="0,210.0 20,213.8 40,217.7 60,221.7 80,225.7 100,229.8 120,233.9 140,238.1 160,242.4 180,246.8 200,251.2 220,255.7 240,260.3 260,264.9 280,269.7 300,274.5 320,279.5 340,284.5 360,289.6 380,294.9 400,300.3 420,305.7 440,311.4 460,317.1 480,323.0 500,329.0 520,335.1 540,341.4 560,347.9 580,354.5 600,361.4 620,368.4 640,375.5 660,382.9 680,390.5 700,398.3 720,406.3 740,414.6 760,423.1 780,431.9 800,440.9 820,450.2 840,459.8 860,469.6 880,479.8 900,490.3 920,501.1 940,512.3 960,523.9 980,535.8 1000,548.1 1020,560.8 1040,573.9 1060,587.4 1080,601.4 1100,615.9 1120,630.8 1140,646.3 1160,662.2 1180,678.7 1200,695.8 1220,713.4 1240,731.7 1260,750.5 1280,770.0 1300,790.2 1320,811.0 1340,832.6 1360,854.8 1380,877.6 1400,900.8 1420,924.5 1440,948.7 1460,973.4 1480,998.6 1500,1024.3"/><polyline points="0,227.5 20,231.4 40,235.4 60,239.4 80,243.5 100,247.7 120,251.9 140,256.3 160,260.6 180,265.1 200,269.6 220,274.2 240,278.9 260,283.7 280,288.6 300,293.5 320,298.6 340,303.8 360,309.1 380,314.4 400,319.9 420,325.6 440,331.3 460,337.2 480,343.2 500,349.4 520,355.7 540,362.2 560,368.9 580,375.7 600,382.7 620,389.8 640,397.2 660,404.8 680,412.6 700,420.6 720,428.8 740,437.3 760,446.0 780,455.0 800,464.2 820,473.8 840,483.6 860,493.7 880,504.1 900,514.9 920,526.0 940,537.4 960,549.2 980,561.4 1000,574.0 1020,587.0 1040,600.4 1060,614.3 1080,628.6 1100,643.4 1120,658.7 1140,674.4 1160,690.7 1180,707.6 1200,725.0 1220,743.0 1240,761.6 1260,780.9 1280,800.8 1300,821.3 1320,842.6 1340,864.5 1360,886.8 1380,909.6 1400,932.8 1420,956.5 1440,980.7 1460,1005.4 1480,1030.6 1500,1056.3"/><polyline points="0,245.0 20,249.0 40,253.1 60,257.2 80,261.4 100,265.6 120,270.0 140,274.4 160,278.9 180,283.4 200,288.0 220,292.8 240,297.6 260,302.5 280,307.5 300,312.6 320,317.7 340,323.0 360,328.5 380,334.0 400,339.6 420,345.4 440,351.3 460,357.3 480,363.5 500,369.8 520,376.3 540,383.0 560,389.8 580,396.8 600,404.0 620,411.3 640,418.9 660,426.6 680,434.6 700,442.8 720,451.3 740,460.0 760,468.9 780,478.1 800,487.6 820,497.3 840,507.4 860,517.8 880,528.4 900,539.5 920,550.8 940,562.5 960,574.6 980,587.1 1000,600.0 1020,613.3 1040,627.0 1060,641.1 1080,655.8 1100,670.9 1120,686.5 1140,702.6 1160,719.3 1180,736.5 1200,754.2 1220,772.6 1240,791.6 1260,811.2 1280,831.5 1300,852.5 1320,873.9 1340,895.8 1360,918.1 1380,940.9 1400,964.1 1420,987.9 1440,1012.0 1460,1036.7 1480,1061.9 1500,1087.6"/><polyline points="0,262.5 20,266.6 40,270.7 60,274.9 80,279.2 100,283.6 120,288.0 140,292.5 160,297.1 180,301.7 200,306.5 220,311.3 240,316.2 260,321.2 280,326.4 300,331.6 320,336.9 340,342.3 360,347.9 380,353.5 400,359.3 420,365.2 440,371.3 460,377.5 480,383.8 500,390.3 520,396.9 540,403.7 560,410.7 580,417.9 600,425.3 620,432.8 640,440.6 660,448.5 680,456.7 700,465.1 720,473.8 740,482.7 760,491.8 780,501.2 800,510.9 820,520.9 840,531.2 860,541.8 880,552.8 900,564.0 920,575.7 940,587.6 960,600.0 980,612.8 1000,625.9 1020,639.5 1040,653.5 1060,668.0 1080,682.9 1100,698.4 1120,714.3 1140,730.8 1160,747.8 1180,765.3 1200,783.5 1220,802.2 1240,821.6 1260,841.6 1280,862.2 1300,883.2 1320,904.7 1340,926.5 1360,948.9 1380,971.6 1400,994.9 1420,1018.6 1440,1042.8 1460,1067.5 1480,1092.7 1500,1118.4"/><polyline points="0,280.0 20,284.2 40,288.4 60,292.7 80,297.1 100,301.5 120,306.0 140,310.6 160,315.3 180,320.1 200,324.9 220,329.9 240,334.9 260,340.0 280,345.3 300,350.6 320,356.0 340,361.6 360,367.3 380,373.1 400,379.0 420,385.1 440,391.2 460,397.6 480,404.1 500,410.7 520,417.5 540,424.5 560,431.7 580,439.0 600,446.5 620,454.3 640,462.2 660,470.4 680,478.8 700,487.4 720,496.2 740,505.3 760,514.7 780,524.4 800,534.3 820,544.5 840,555.0 860,565.9 880,577.1 900,588.6 920,600.5 940,612.7 960,625.4 980,638.4 1000,651.9 1020,665.7 1040,680.1 1060,694.8 1080,710.1 1100,725.9 1120,742.1 1140,758.9 1160,776.3 1180,794.2 1200,812.7 1220,831.8 1240,851.5 1260,871.7 1280,892.3 1300,913.4 1320,934.8 1340,956.7 1360,979.0 1380,1001.8 1400,1025.0 1420,1048.8 1440,1072.9 1460,1097.6 1480,1122.8 1500,1148.5"/><polyline points="0,297.5 20,301.7 40,306.1 60,310.4 80,314.9 100,319.4 120,324.1 140,328.8 160,333.5 180,338.4 200,343.4 220,348.4 240,353.6 260,358.8 280,364.2 300,369.6 320,375.2 340,380.9 360,386.7 380,392.6 400,398.7 420,404.9 440,411.2 460,417.7 480,424.4 500,431.2 520,438.1 540,445.3 560,452.6 580,460.1 600,467.8 620,475.8 640,483.9 660,492.2 680,500.8 700,509.6 720,518.7 740,528.0 760,537.6 780,547.5 800,557.6 820,568.1 840,578.9 860,590.0 880,601.4 900,613.2 920,625.3 940,637.8 960,650.8 980,664.1 1000,677.8 1020,692.0 1040,706.6 1060,721.7 1080,737.3 1100,753.3 1120,769.9 1140,787.1 1160,804.8 1180,823.0 1200,841.9 1220,861.3 1240,881.1 1260,901.3 1280,921.9 1300,943.0 1320,964.4 1340,986.3 1360,1008.6 1380,1031.4 1400,1054.6 1420,1078.3 1440,1102.5 1460,1127.2 1480,1152.4 1500,1178.1"/><polyline points="0,315.0 20,319.3 40,323.7 60,328.2 80,332.7 100,337.4 120,342.1 140,346.9 160,351.8 180,356.7 200,361.8 220,367.0 240,372.2 260,377.6 280,383.0 300,388.6 320,394.3 340,400.1 360,406.1 380,412.2 400,418.4 420,424.7 440,431.2 460,437.8 480,444.6 500,451.6 520,458.7 540,466.1 560,473.6 580,481.3 600,489.1 620,497.2 640,505.6 660,514.1 680,522.9 700,531.9 720,541.2 740,550.7 760,560.5 780,570.6 800,581.0 820,591.7 840,602.7 860,614.0 880,625.7 900,637.8 920,650.2 940,663.0 960,676.1 980,689.7 1000,703.8 1020,718.2 1040,733.1 1060,748.5 1080,764.4 1100,780.8 1120,797.8 1140,815.2 1160,833.3 1180,851.9 1200,870.9 1220,890.3 1240,910.1 1260,930.3 1280,951.0 1300,972.0 1320,993.4 1340,1015.3 1360,1037.6 1380,1060.4 1400,1083.7 1420,1107.4 1440,1131.6 1460,1156.2 1480,1181.4 1500,1207.1"/><polyline points="0,332.5 20,336.9 40,341.4 60,345.9 80,350.6 100,355.3 120,360.1 140,365.0 160,370.0 180,375.1 200,380.2 220,385.5 240,390.9 260,396.4 280,401.9 300,407.6 320,413.5 340,419.4 360,425.5 380,431.7 400,438.0 420,444.5 440,451.2 460,458.0 480,464.9 500,472.0 520,479.3 540,486.8 560,494.5 580,502.4 600,510.4 620,518.7 640,527.2 660,536.0 680,544.9 700,554.2 720,563.6 740,573.4 760,583.4 780,593.7 800,604.3 820,615.3 840,626.5 860,638.1 880,650.0 900,662.3 920,675.0 940,688.1 960,701.5 980,715.4 1000,729.7 1020,744.5 1040,759.7 1060,775.4 1080,791.6 1100,808.3 1120,825.6 1140,843.4 1160,861.7 1180,880.4 1200,899.4 1220,918.8 1240,938.6 1260,958.8 1280,979.4 1300,1000.5 1320,1021.9 1340,1043.8 1360,1066.1 1380,1088.9 1400,1112.1 1420,1135.9 1440,1160.0 1460,1184.7 1480,1209.9 1500,1235.6"/><polyline points="0,350.0 20,354.5 40,359.0 60,363.7 80,368.4 100,373.2 120,378.1 140,383.1 160,388.2 180,393.4 200,398.7 220,404.0 240,409.5 260,415.1 280,420.8 300,426.7 320,432.6 340,438.7 360,444.9 380,451.2 400,457.7 420,464.4 440,471.1 460,478.1 480,485.2 500,492.5 520,500.0 540,507.6 560,515.4 580,523.5 600,531.7 620,540.2 640,548.9 660,557.8 680,567.0 700,576.4 720,586.1 740,596.1 760,606.3 780,616.9 800,627.7 820,638.9 840,650.3 860,662.2 880,674.4 900,686.9 920,699.8 940,713.2 960,726.9 980,741.1 1000,755.7 1020,770.7 1040,786.2 1060,802.3 1080,818.8 1100,835.8 1120,853.4 1140,871.3 1160,889.6 1180,908.3 1200,927.3 1220,946.8 1240,966.6 1260,986.8 1280,1007.4 1300,1028.4 1320,1049.8 1340,1071.7 1360,1094.1 1380,1116.8 1400,1140.1 1420,1163.8 1440,1188.0 1460,1212.7 1480,1237.9 1500,1263.6"/><polyline points="0,367.5 20,372.1 40,376.7 60,381.4 80,386.3 100,391.2 120,396.2 140,401.2 160,406.4 180,411.7 200,417.1 220,422.6 240,428.2 260,433.9 280,439.7 300,445.7 320,451.8 340,458.0 360,464.3 380,470.8 400,477.4 420,484.2 440,491.1 460,498.2 480,505.5 500,512.9 520,520.6 540,528.4 560,536.4 580,544.6 600,553.0 620,561.7 640,570.6 660,579.7 680,589.1 700,598.7 720,608.6 740,618.8 760,629.2 780,640.0 800,651.0 820,662.4 840,674.2 860,686.2 880,698.7 900,711.5 920,724.7 940,738.3 960,752.3 980,766.7 1000,781.6 1020,797.0 1040,812.8 1060,829.1 1080,845.9 1100,863.2 1120,880.8 1140,898.8 1160,917.1 1180,935.7 1200,954.8 1220,974.2 1240,994.0 1260,1014.2 1280,1034.8 1300,1055.8 1320,1077.3 1340,1099.2 1360,1121.5 1380,1144.3 1400,1167.5 1420,1191.2 1440,1215.4 1460,1240.1 1480,1265.3 1500,1291.0"/><polyline points="0,385.0 20,389.6 40,394.4 60,399.2 80,404.1 100,409.1 120,414.2 140,419.4 160,424.7 180,430.0 200,435.5 220,441.1 240,446.9 260,452.7 280,458.6 300,464.7 320,470.9 340,477.2 360,483.7 380,490.3 400,497.1 420,504.0 440,511.1 460,518.3 480,525.8 500,533.4 520,541.2 540,549.1 560,557.3 580,565.7 600,574.3 620,583.2 640,592.2 660,601.6 680,611.1 700,621.0 720,631.1 740,641.4 760,652.1 780,663.1 800,674.4 820,686.0 840,698.0 860,710.3 880,723.0 900,736.1 920,749.5 940,763.4 960,777.7 980,792.4 1000,807.6 1020,823.2 1040,839.3 1060,855.9 1080,872.8 1100,890.1 1120,907.7 1140,925.7 1160,944.0 1180,962.6 1200,981.7 1220,1001.1 1240,1020.9 1260,1041.1 1280,1061.7 1300,1082.7 1320,1104.2 1340,1126.1 1360,1148.4 1380,1171.2 1400,1194.4 1420,1218.1 1440,1242.3 1460,1267.0 1480,1292.2 1500,1317.9"/><polyline points="0,402.5 20,407.2 40,412.0 60,416.9 80,421.9 100,427.0 120,432.2 140,437.5 160,442.9 180,448.4 200,454.0 220,459.7 240,465.5 260,471.5 280,477.5 300,483.7 320,490.0 340,496.5 360,503.1 380,509.9 400,516.8 420,523.8 440,531.1 460,538.5 480,546.0 500,553.8 520,561.8 540,569.9 560,578.3 580,586.8 600,595.6 620,604.6 640,613.9 660,623.4 680,633.2 700,643.2 720,653.5 740,664.1 760,675.0 780,686.2 800,697.8 820,709.6 840,721.8 860,734.4 880,747.3 900,760.6 920,774.4 940,788.5 960,803.0 980,818.0 1000,833.5 1020,849.4 1040,865.7 1060,882.3 1080,899.3 1100,916.5 1120,934.1 1140,952.1 1160,970.4 1180,989.1 1200,1008.1 1220,1027.5 1240,1047.3 1260,1067.5 1280,1088.2 1300,1109.2 1320,1130.6 1340,1152.5 1360,1174.8 1380,1197.6 1400,1220.9 1420,1244.6 1440,1268.8 1460,1293.4 1480,1318.6 1500,1344.3"/><polyline points="0,420.0 20,424.8 40,429.7 60,434.7 80,439.8 100,445.0 120,450.2 140,455.6 160,461.1 180,466.7 200,472.4 220,478.2 240,484.2 260,490.2 280,496.4 300,502.7 320,509.2 340,515.8 360,522.5 380,529.4 400,536.5 420,543.7 440,551.0 460,558.6 480,566.3 500,574.3 520,582.4 540,590.7 560,599.2 580,608.0 600,616.9 620,626.1 640,635.6 660,645.3 680,655.2 700,665.5 720,676.0 740,686.8 760,697.9 780,709.3 800,721.1 820,733.2 840,745.6 860,758.4 880,771.6 900,785.2 920,799.2 940,813.6 960,828.4 980,843.7 1000,859.4 1020,875.4 1040,891.7 1060,908.3 1080,925.2 1100,942.5 1120,960.1 1140,978.0 1160,996.3 1180,1015.0 1200,1034.1 1220,1053.5 1240,1073.3 1260,1093.5 1280,1114.1 1300,1135.1 1320,1156.6 1340,1178.5 1360,1200.8 1380,1223.6 1400,1246.8 1420,1270.5 1440,1294.7 1460,1319.4 1480,1344.6 1500,1370.3"/><polyline points="0,437.5 20,442.4 40,447.4 60,452.4 80,457.6 100,462.9 120,468.3 140,473.7 160,479.3 180,485.0 200,490.8 220,496.8 240,502.8 260,509.0 280,515.3 300,521.8 320,528.3 340,535.1 360,541.9 380,549.0 400,556.1 420,563.5 440,571.0 460,578.7 480,586.6 500,594.7 520,603.0 540,611.5 560,620.2 580,629.1 600,638.2 620,647.6 640,657.2 660,667.1 680,677.3 700,687.7 720,698.5 740,709.5 760,720.8 780,732.5 800,744.5 820,756.8 840,769.5 860,782.5 880,796.0 900,809.8 920,824.0 940,838.7 960,853.8 980,869.2 1000,884.8 1020,900.8 1040,917.1 1060,933.7 1080,950.7 1100,967.9 1120,985.5 1140,1003.5 1160,1021.8 1180,1040.5 1200,1059.5 1220,1078.9 1240,1098.7 1260,1118.9 1280,1139.6 1300,1160.6 1320,1182.0 1340,1203.9 1360,1226.2 1380,1249.0 1400,1272.3 1420,1296.0 1440,1320.2 1460,1344.9 1480,1370.0 1500,1395.7"/><polyline points="0,455.0 20,460.0 40,465.0 60,470.2 80,475.5 100,480.8 120,486.3 140,491.9 160,497.6 180,503.4 200,509.3 220,515.3 240,521.5 260,527.8 280,534.2 300,540.8 320,547.5 340,554.3 360,561.3 380,568.5 400,575.8 420,583.3 440,591.0 460,598.8 480,606.9 500,615.1 520,623.6 540,632.2 560,641.1 580,650.2 600,659.5 620,669.1 640,678.9 660,689.0 680,699.4 700,710.0 720,720.9 740,732.2 760,743.7 780,755.6 800,767.8 820,780.4 840,793.3 860,806.6 880,820.3 900,834.4 920,848.9 940,863.7 960,878.8 980,894.2 1000,909.9 1020,925.9 1040,942.1 1060,958.8 1080,975.7 1100,993.0 1120,1010.6 1140,1028.5 1160,1046.8 1180,1065.5 1200,1084.5 1220,1104.0 1240,1123.8 1260,1144.0 1280,1164.6 1300,1185.6 1320,1207.1 1340,1228.9 1360,1251.3 1380,1274.0 1400,1297.3 1420,1321.0 1440,1345.2 1460,1369.9 1480,1395.1 1500,1420.8"/><polyline points="0,472.5 20,477.6 40,482.7 60,487.9 80,493.3 100,498.8 120,504.3 140,510.0 160,515.8 180,521.7 200,527.7 220,533.9 240,540.1 260,546.6 280,553.1 300,559.8 320,566.6 340,573.6 360,580.7 380,588.0 400,595.5 420,603.2 440,611.0 460,619.0 480,627.2 500,635.6 520,644.2 540,653.0 560,662.0 580,671.3 600,680.8 620,690.6 640,700.6 660,710.9 680,721.4 700,732.3 720,743.4 740,754.9 760,766.6 780,778.7 800,791.2 820,804.0 840,817.1 860,830.7 880,844.6 900,858.9 920,873.4 940,888.2 960,903.4 980,918.7 1000,934.4 1020,950.4 1040,966.7 1060,983.3 1080,1000.3 1100,1017.5 1120,1035.1 1140,1053.1 1160,1071.4 1180,1090.1 1200,1109.1 1220,1128.5 1240,1148.3 1260,1168.5 1280,1189.2 1300,1210.2 1320,1231.6 1340,1253.5 1360,1275.8 1380,1298.6 1400,1321.9 1420,1345.6 1440,1369.8 1460,1394.4 1480,1419.6 1500,1445.3"/><polyline points="0,490.0 20,495.1 40,500.4 60,505.7 80,511.1 100,516.7 120,522.4 140,528.1 160,534.0 180,540.0 200,546.2 220,552.4 240,558.8 260,565.3 280,572.0 300,578.8 320,585.8 340,592.9 360,600.2 380,607.6 400,615.2 420,623.0 440,630.9 460,639.1 480,647.5 500,656.0 520,664.8 540,673.8 560,683.0 580,692.4 600,702.1 620,712.1 640,722.3 660,732.7 680,743.5 700,754.5 720,765.9 740,777.5 760,789.5 780,801.8 800,814.5 820,827.5 840,840.9 860,854.7 880,868.7 900,883.0 920,897.5 940,912.4 960,927.5 980,942.9 1000,958.6 1020,974.5 1040,990.8 1060,1007.4 1080,1024.4 1100,1041.7 1120,1059.3 1140,1077.2 1160,1095.5 1180,1114.2 1200,1133.2 1220,1152.6 1240,1172.5 1260,1192.7 1280,1213.3 1300,1234.3 1320,1255.7 1340,1277.6 1360,1300.0 1380,1322.7 1400,1346.0 1420,1369.7 1440,1393.9 1460,1418.6 1480,1443.7 1500,1469.4"/><polyline points="0,507.5 20,512.7 40,518.0 60,523.5 80,529.0 100,534.6 120,540.4 140,546.2 160,552.2 180,558.4 200,564.6 220,571.0 240,577.5 260,584.1 280,590.9 300,597.8 320,604.9 340,612.2 360,619.6 380,627.1 400,634.9 420,642.8 440,650.9 460,659.2 480,667.7 500,676.5 520,685.4 540,694.5 560,703.9 580,713.5 600,723.4 620,733.5 640,743.9 660,754.6 680,765.5 700,776.8 720,788.4 740,800.2 760,812.4 780,825.0 800,837.9 820,851.1 840,864.6 860,878.4 880,892.4 900,906.7 920,921.2 940,936.1 960,951.2 980,966.6 1000,982.3 1020,998.2 1040,1014.5 1060,1031.2 1080,1048.1 1100,1065.4 1120,1083.0 1140,1100.9 1160,1119.2 1180,1137.9 1200,1156.9 1220,1176.4 1240,1196.2 1260,1216.4 1280,1237.0 1300,1258.0 1320,1279.5 1340,1301.3 1360,1323.7 1380,1346.4 1400,1369.7 1420,1393.4 1440,1417.6 1460,1442.3 1480,1467.5 1500,1493.2"/><polyline points="0,525.0 20,530.3 40,535.7 60,541.2 80,546.8 100,552.6 120,558.4 140,564.4 160,570.5 180,576.7 200,583.0 220,589.5 240,596.1 260,602.9 280,609.8 300,616.8 320,624.1 340,631.4 360,639.0 380,646.7 400,654.6 420,662.6 440,670.9 460,679.4 480,688.0 500,696.9 520,706.0 540,715.3 560,724.9 580,734.7 600,744.7 620,755.0 640,765.6 660,776.5 680,787.6 700,799.1 720,810.8 740,822.9 760,835.3 780,848.1 800,861.1 820,874.4 840,887.9 860,901.7 880,915.7 900,930.0 920,944.5 940,959.4 960,974.5 980,989.9 1000,1005.6 1020,1021.5 1040,1037.8 1060,1054.5 1080,1071.4 1100,1088.7 1120,1106.3 1140,1124.2 1160,1142.5 1180,1161.2 1200,1180.2 1220,1199.7 1240,1219.5 1260,1239.7 1280,1260.3 1300,1281.3 1320,1302.7 1340,1324.6 1360,1347.0 1380,1369.7 1400,1393.0 1420,1416.7 1440,1440.9 1460,1465.6 1480,1490.8 1500,1516.5"/><polyline points="0,542.5 20,547.9 40,553.4 60,559.0 80,564.7 100,570.5 120,576.4 140,582.5 160,588.7 180,595.0 200,601.5 220,608.1 240,614.8 260,621.7 280,628.7 300,635.9 320,643.2 340,650.7 360,658.4 380,666.2 400,674.2 420,682.5 440,690.9 460,699.5 480,708.3 500,717.3 520,726.6 540,736.1 560,745.8 580,755.8 600,766.0 620,776.5 640,787.3 660,798.3 680,809.7 700,821.3 720,833.3 740,845.6 760,858.2 780,871.0 800,884.0 820,897.3 840,910.8 860,924.6 880,938.6 900,952.9 920,967.4 940,982.3 960,997.4 980,1012.8 1000,1028.4 1020,1044.4 1040,1060.7 1060,1077.3 1080,1094.3 1100,1111.6 1120,1129.2 1140,1147.1 1160,1165.4 1180,1184.1 1200,1203.1 1220,1222.5 1240,1242.4 1260,1262.6 1280,1283.2 1300,1304.2 1320,1325.6 1340,1347.5 1360,1369.9 1380,1392.6 1400,1415.9 1420,1439.6 1440,1463.8 1460,1488.5 1480,1513.6 1500,1539.3"/><polyline points="0,560.0 20,565.5 40,571.0 60,576.7 80,582.5 100,588.4 120,594.5 140,600.6 160,606.9 180,613.3 200,619.9 220,626.6 240,633.4 260,640.4 280,647.6 300,654.9 320,662.3 340,670.0 360,677.8 380,685.8 400,693.9 420,702.3 440,710.8 460,719.6 480,728.6 500,737.8 520,747.2 540,756.8 560,766.7 580,776.9 600,787.3 620,798.0 640,808.9 660,820.2 680,831.7 700,843.6 720,855.7 740,868.1 760,880.7 780,893.5 800,906.5 820,919.8 840,933.3 860,947.1 880,961.1 900,975.4 920,989.9 940,1004.8 960,1019.9 980,1035.3 1000,1050.9 1020,1066.9 1040,1083.2 1060,1099.8 1080,1116.8 1100,1134.0 1120,1151.6 1140,1169.6 1160,1187.9 1180,1206.6 1200,1225.6 1220,1245.0 1240,1264.8 1260,1285.0 1280,1305.7 1300,1326.7 1320,1348.1 1340,1370.0 1360,1392.3 1380,1415.1 1400,1438.4 1420,1462.1 1440,1486.3 1460,1510.9 1480,1536.1 1500,1561.8"/><polyline points="0,577.5 20,583.0 40,588.7 60,594.5 80,600.3 100,606.4 120,612.5 140,618.7 160,625.1 180,631.7 200,638.3 220,645.1 240,652.1 260,659.2 280,666.5 300,673.9 320,681.5 340,689.2 360,697.2 380,705.3 400,713.6 420,722.1 440,730.8 460,739.7 480,748.9 500,758.2 520,767.8 540,777.6 560,787.7 580,798.0 600,808.6 620,819.5 640,830.6 660,842.0 680,853.8 700,865.7 720,877.8 740,890.2 760,902.8 780,915.6 800,928.6 820,941.9 840,955.4 860,969.2 880,983.2 900,997.5 920,1012.0 940,1026.9 960,1042.0 980,1057.4 1000,1073.1 1020,1089.0 1040,1105.3 1060,1122.0 1080,1138.9 1100,1156.2 1120,1173.8 1140,1191.7 1160,1210.0 1180,1228.7 1200,1247.7 1220,1267.1 1240,1287.0 1260,1307.2 1280,1327.8 1300,1348.8 1320,1370.2 1340,1392.1 1360,1414.5 1380,1437.2 1400,1460.5 1420,1484.2 1440,1508.4 1460,1533.1 1480,1558.3 1500,1584.0"/><polyline points="0,595.0 20,600.6 40,606.4 60,612.2 80,618.2 100,624.3 120,630.5 140,636.9 160,643.4 180,650.0 200,656.8 220,663.7 240,670.8 260,678.0 280,685.4 300,692.9 320,700.6 340,708.5 360,716.6 380,724.8 400,733.3 420,741.9 440,750.8 460,759.9 480,769.1 500,778.7 520,788.4 540,798.4 560,808.6 580,819.1 600,829.9 620,840.9 640,852.2 660,863.8 680,875.5 700,887.4 720,899.6 740,911.9 760,924.5 780,937.3 800,950.4 820,963.6 840,977.2 860,990.9 880,1005.0 900,1019.2 920,1033.8 940,1048.6 960,1063.7 980,1079.1 1000,1094.8 1020,1110.8 1040,1127.1 1060,1143.7 1080,1160.6 1100,1177.9 1120,1195.5 1140,1213.5 1160,1231.8 1180,1250.4 1200,1269.5 1220,1288.9 1240,1308.7 1260,1328.9 1280,1349.5 1300,1370.5 1320,1392.0 1340,1413.9 1360,1436.2 1380,1459.0 1400,1482.2 1420,1505.9 1440,1530.1 1460,1554.8 1480,1580.0 1500,1605.7"/><polyline points="0,612.5 20,618.2 40,624.0 60,630.0 80,636.0 100,642.2 120,648.5 140,655.0 160,661.6 180,668.3 200,675.2 220,682.2 240,689.4 260,696.8 280,704.3 300,711.9 320,719.8 340,727.8 360,736.0 380,744.4 400,753.0 420,761.8 440,770.8 460,780.0 480,789.4 500,799.1 520,809.0 540,819.2 560,829.6 580,840.2 600,851.2 620,862.3 640,873.6 660,885.2 680,896.9 700,908.8 720,921.0 740,933.3 760,945.9 780,958.7 800,971.8 820,985.0 840,998.6 860,1012.3 880,1026.3 900,1040.6 920,1055.2 940,1070.0 960,1085.1 980,1100.5 1000,1116.2 1020,1132.2 1040,1148.5 1060,1165.1 1080,1182.0 1100,1199.3 1120,1216.9 1140,1234.8 1160,1253.2 1180,1271.8 1200,1290.9 1220,1310.3 1240,1330.1 1260,1350.3 1280,1370.9 1300,1391.9 1320,1413.4 1340,1435.3 1360,1457.6 1380,1480.4 1400,1503.6 1420,1527.3 1440,1551.5 1460,1576.2 1480,1601.4 1500,1627.1"/><polyline points="0,630.0 20,635.8 40,641.7 60,647.7 80,653.9 100,660.1 120,666.6 140,673.1 160,679.8 180,686.7 200,693.6 220,700.8 240,708.1 260,715.5 280,723.2 300,731.0 320,738.9 340,747.1 360,755.4 380,763.9 400,772.7 420,781.6 440,790.7 460,800.1 480,809.7 500,819.5 520,829.6 540,839.9 560,850.5 580,861.3 600,872.2 620,883.3 640,894.7 660,906.2 680,917.9 700,929.9 720,942.0 740,954.4 760,967.0 780,979.8 800,992.8 820,1006.1 840,1019.6 860,1033.4 880,1047.4 900,1061.7 920,1076.2 940,1091.0 960,1106.1 980,1121.5 1000,1137.2 1020,1153.2 1040,1169.5 1060,1186.1 1080,1203.1 1100,1220.3 1120,1237.9 1140,1255.9 1160,1274.2 1180,1292.9 1200,1311.9 1220,1331.3 1240,1351.1 1260,1371.3 1280,1391.9 1300,1413.0 1320,1434.4 1340,1456.3 1360,1478.6 1380,1501.4 1400,1524.6 1420,1548.4 1440,1572.6 1460,1597.2 1480,1622.4 1500,1648.1"/><polyline points="0,647.5 20,653.4 40,659.3 60,665.5 80,671.7 100,678.1 120,684.6 140,691.2 160,698.0 180,705.0 200,712.1 220,719.3 240,726.7 260,734.3 280,742.1 300,750.0 320,758.1 340,766.3 360,774.8 380,783.5 400,792.3 420,801.4 440,810.7 460,820.2 480,830.0 500,840.0 520,850.2 540,860.6 560,871.2 580,882.0 600,892.9 620,904.1 640,915.4 660,926.9 680,938.6 700,950.6 720,962.7 740,975.1 760,987.7 780,1000.5 800,1013.5 820,1026.8 840,1040.3 860,1054.1 880,1068.1 900,1082.4 920,1096.9 940,1111.7 960,1126.9 980,1142.2 1000,1157.9 1020,1173.9 1040,1190.2 1060,1206.8 1080,1223.8 1100,1241.0 1120,1258.6 1140,1276.6 1160,1294.9 1180,1313.6 1200,1332.6 1220,1352.0 1240,1371.8 1260,1392.0 1280,1412.7 1300,1433.7 1320,1455.1 1340,1477.0 1360,1499.3 1380,1522.1 1400,1545.4 1420,1569.1 1440,1593.3 1460,1617.9 1480,1643.1 1500,1668.8"/><polyline points="0,665.0 20,670.9 40,677.0 60,683.2 80,689.5 100,696.0 120,702.6 140,709.4 160,716.3 180,723.3 200,730.5 220,737.9 240,745.4 260,753.1 280,760.9 300,769.0 320,777.2 340,785.6 360,794.2 380,803.0 400,812.0 420,821.3 440,830.7 460,840.4 480,850.2 500,860.3 520,870.6 540,881.0 560,891.6 580,902.3 600,913.3 620,924.4 640,935.8 660,947.3 680,959.0 700,970.9 720,983.1 740,995.4 760,1008.0 780,1020.8 800,1033.9 820,1047.2 840,1060.7 860,1074.4 880,1088.5 900,1102.7 920,1117.3 940,1132.1 960,1147.2 980,1162.6 1000,1178.3 1020,1194.3 1040,1210.6 1060,1227.2 1080,1244.1 1100,1261.4 1120,1279.0 1140,1297.0 1160,1315.3 1180,1333.9 1200,1353.0 1220,1372.4 1240,1392.2 1260,1412.4 1280,1433.0 1300,1454.1 1320,1475.5 1340,1497.4 1360,1519.7 1380,1542.5 1400,1565.7 1420,1589.4 1440,1613.6 1460,1638.3 1480,1663.5 1500,1689.2"/><polyline points="0,682.5 20,688.5 40,694.7 60,701.0 80,707.4 100,713.9 120,720.6 140,727.5 160,734.5 180,741.6 200,749.0 220,756.4 240,764.1 260,771.9 280,779.8 300,788.0 320,796.4 340,804.9 360,813.6 380,822.6 400,831.7 420,841.1 440,850.7 460,860.4 480,870.3 500,880.4 520,890.6 540,901.0 560,911.6 580,922.4 600,933.3 620,944.5 640,955.8 660,967.3 680,979.1 700,991.0 720,1003.1 740,1015.5 760,1028.1 780,1040.9 800,1053.9 820,1067.2 840,1080.7 860,1094.5 880,1108.5 900,1122.8 920,1137.4 940,1152.2 960,1167.3 980,1182.7 1000,1198.4 1020,1214.4 1040,1230.7 1060,1247.3 1080,1264.2 1100,1281.5 1120,1299.1 1140,1317.0 1160,1335.3 1180,1354.0 1200,1373.0 1220,1392.5 1240,1412.3 1260,1432.5 1280,1453.1 1300,1474.1 1320,1495.6 1340,1517.4 1360,1539.8 1380,1562.5 1400,1585.8 1420,1609.5 1440,1633.7 1460,1658.4 1480,1683.6 1500,1709.3"/><polyline points="0,700.0 20,706.1 40,712.3 60,718.7 80,725.2 100,731.9 120,738.7 140,745.6 160,752.7 180,760.0 200,767.4 220,775.0 240,782.7 260,790.6 280,798.7 300,807.0 320,815.5 340,824.2 360,833.0 380,842.1 400,851.4 420,860.8 440,870.4 460,880.2 480,890.1 500,900.1 520,910.4 540,920.8 560,931.4 580,942.1 600,953.1 620,964.2 640,975.6 660,987.1 680,998.8 700,1010.8 720,1022.9 740,1035.3 760,1047.8 780,1060.6 800,1073.7 820,1087.0 840,1100.5 860,1114.2 880,1128.3 900,1142.6 920,1157.1 940,1171.9 960,1187.0 980,1202.4 1000,1218.1 1020,1234.1 1040,1250.4 1060,1267.0 1080,1284.0 1100,1301.2 1120,1318.8 1140,1336.8 1160,1355.1 1180,1373.8 1200,1392.8 1220,1412.2 1240,1432.0 1260,1452.2 1280,1472.8 1300,1493.9 1320,1515.3 1340,1537.2 1360,1559.5 1380,1582.3 1400,1605.5 1420,1629.2 1440,1653.4 1460,1678.1 1480,1703.3 1500,1729.0"/><polyline points="0,717.5 20,723.7 40,730.0 60,736.5 80,743.1 100,749.8 120,756.7 140,763.7 160,770.9 180,778.3 200,785.8 220,793.5 240,801.4 260,809.4 280,817.6 300,826.0 320,834.6 340,843.4 360,852.4 380,861.6 400,870.8 420,880.3 440,889.9 460,899.6 480,909.5 500,919.6 520,929.8 540,940.2 560,950.8 580,961.6 600,972.6 620,983.7 640,995.0 660,1006.6 680,1018.3 700,1030.2 720,1042.4 740,1054.7 760,1067.3 780,1080.1 800,1093.1 820,1106.4 840,1119.9 860,1133.7 880,1147.7 900,1162.0 920,1176.6 940,1191.4 960,1206.5 980,1221.9 1000,1237.6 1020,1253.6 1040,1269.9 1060,1286.5 1080,1303.4 1100,1320.7 1120,1338.3 1140,1356.2 1160,1374.5 1180,1393.2 1200,1412.3 1220,1431.7 1240,1451.5 1260,1471.7 1280,1492.3 1300,1513.3 1320,1534.8 1340,1556.7 1360,1579.0 1380,1601.8 1400,1625.0 1420,1648.7 1440,1672.9 1460,1697.6 1480,1722.8 1500,1748.5"/><polyline points="0,735.0 20,741.3 40,747.7 60,754.2 80,760.9 100,767.7 120,774.7 140,781.9 160,789.2 180,796.6 200,804.3 220,812.1 240,820.0 260,828.2 280,836.5 300,845.1 320,853.8 340,862.6 360,871.6 380,880.7 400,890.0 420,899.4 440,909.0 460,918.8 480,928.7 500,938.8 520,949.0 540,959.4 560,970.0 580,980.8 600,991.7 620,1002.9 640,1014.2 660,1025.7 680,1037.5 700,1049.4 720,1061.5 740,1073.9 760,1086.5 780,1099.3 800,1112.3 820,1125.6 840,1139.1 860,1152.9 880,1166.9 900,1181.2 920,1195.7 940,1210.6 960,1225.7 980,1241.1 1000,1256.7 1020,1272.7 1040,1289.0 1060,1305.6 1080,1322.6 1100,1339.9 1120,1357.5 1140,1375.4 1160,1393.7 1180,1412.4 1200,1431.4 1220,1450.8 1240,1470.7 1260,1490.9 1280,1511.5 1300,1532.5 1320,1553.9 1340,1575.8 1360,1598.2 1380,1620.9 1400,1644.2 1420,1667.9 1440,1692.1 1460,1716.8 1480,1741.9 1500,1767.6"/><polyline points="0,752.5 20,758.8 40,765.3 60,772.0 80,778.7 100,785.7 120,792.8 140,800.0 160,807.4 180,815.0 200,822.7 220,830.6 240,838.7 260,847.0 280,855.4 300,864.0 320,872.7 340,881.5 360,890.5 380,899.6 400,908.9 420,918.3 440,927.9 460,937.7 480,947.6 500,957.7 520,967.9 540,978.3 560,988.9 580,999.7 600,1010.6 620,1021.8 640,1033.1 660,1044.6 680,1056.4 700,1068.3 720,1080.4 740,1092.8 760,1105.4 780,1118.2 800,1131.2 820,1144.5 840,1158.0 860,1171.8 880,1185.8 900,1200.1 920,1214.6 940,1229.5 960,1244.6 980,1260.0 1000,1275.6 1020,1291.6 1040,1307.9 1060,1324.5 1080,1341.5 1100,1358.7 1120,1376.4 1140,1394.3 1160,1412.6 1180,1431.3 1200,1450.3 1220,1469.7 1240,1489.5 1260,1509.8 1280,1530.4 1300,1551.4 1320,1572.8 1340,1594.7 1360,1617.0 1380,1639.8 1400,1663.1 1420,1686.8 1440,1711.0 1460,1735.7 1480,1760.8 1500,1786.5"/><polyline points="0,770.0 20,776.4 40,783.0 60,789.7 80,796.6 100,803.6 120,810.8 140,818.1 160,825.6 180,833.3 200,841.1 220,849.1 240,857.3 260,865.6 280,874.0 300,882.6 320,891.3 340,900.1 360,909.1 380,918.2 400,927.5 420,937.0 440,946.6 460,956.3 480,966.2 500,976.3 520,986.5 540,996.9 560,1007.5 580,1018.3 600,1029.3 620,1040.4 640,1051.7 660,1063.3 680,1075.0 700,1086.9 720,1099.1 740,1111.4 760,1124.0 780,1136.8 800,1149.8 820,1163.1 840,1176.6 860,1190.4 880,1204.4 900,1218.7 920,1233.3 940,1248.1 960,1263.2 980,1278.6 1000,1294.3 1020,1310.3 1040,1326.6 1060,1343.2 1080,1360.1 1100,1377.4 1120,1395.0 1140,1412.9 1160,1431.2 1180,1449.9 1200,1469.0 1220,1488.4 1240,1508.2 1260,1528.4 1280,1549.0 1300,1570.0 1320,1591.5 1340,1613.4 1360,1635.7 1380,1658.5 1400,1681.7 1420,1705.4 1440,1729.6 1460,1754.3 1480,1779.5 1500,1805.2"/><polyline points="0,787.5 20,794.0 40,800.7 60,807.5 80,814.4 100,821.5 120,828.8 140,836.2 160,843.8 180,851.6 200,859.5 220,867.5 240,875.7 260,884.0 280,892.4 300,901.0 320,909.7 340,918.5 360,927.5 380,936.6 400,945.9 420,955.3 440,964.9 460,974.7 480,984.6 500,994.7 520,1004.9 540,1015.3 560,1025.9 580,1036.7 600,1047.6 620,1058.8 640,1070.1 660,1081.6 680,1093.4 700,1105.3 720,1117.4 740,1129.8 760,1142.4 780,1155.2 800,1168.2 820,1181.5 840,1195.0 860,1208.8 880,1222.8 900,1237.1 920,1251.6 940,1266.5 960,1281.6 980,1297.0 1000,1312.7 1020,1328.6 1040,1344.9 1060,1361.6 1080,1378.5 1100,1395.8 1120,1413.4 1140,1431.3 1160,1449.6 1180,1468.3 1200,1487.3 1220,1506.7 1240,1526.6 1260,1546.8 1280,1567.4 1300,1588.4 1320,1609.8 1340,1631.7 1360,1654.1 1380,1676.8 1400,1700.1 1420,1723.8 1440,1748.0 1460,1772.7 1480,1797.9 1500,1823.6"/><polyline points="0,805.0 20,811.6 40,818.3 60,825.2 80,832.3 100,839.5 120,846.8 140,854.3 160,862.0 180,869.7 200,877.6 220,885.7 240,893.8 260,902.1 280,910.5 300,919.1 320,927.8 340,936.6 360,945.6 380,954.8 400,964.0 420,973.5 440,983.1 460,992.8 480,1002.7 500,1012.8 520,1023.0 540,1033.5 560,1044.1 580,1054.8 600,1065.8 620,1076.9 640,1088.2 660,1099.8 680,1111.5 700,1123.4 720,1135.6 740,1147.9 760,1160.5 780,1173.3 800,1186.4 820,1199.6 840,1213.2 860,1226.9 880,1240.9 900,1255.2 920,1269.8 940,1284.6 960,1299.7 980,1315.1 1000,1330.8 1020,1346.8 1040,1363.1 1060,1379.7 1080,1396.6 1100,1413.9 1120,1431.5 1140,1449.5 1160,1467.8 1180,1486.4 1200,1505.5 1220,1524.9 1240,1544.7 1260,1564.9 1280,1585.5 1300,1606.5 1320,1628.0 1340,1649.9 1360,1672.2 1380,1695.0 1400,1718.2 1420,1741.9 1440,1766.1 1460,1790.8 1480,1816.0 1500,1841.7"/><polyline points="0,822.5 20,829.2 40,836.0 60,843.0 80,850.1 100,857.4 120,864.7 140,872.2 160,879.9 180,887.6 200,895.5 220,903.6 240,911.7 260,920.0 280,928.4 300,937.0 320,945.7 340,954.5 360,963.5 380,972.7 400,981.9 420,991.4 440,1001.0 460,1010.7 480,1020.6 500,1030.7 520,1040.9 540,1051.4 560,1062.0 580,1072.7 600,1083.7 620,1094.8 640,1106.1 660,1117.7 680,1129.4 700,1141.3 720,1153.5 740,1165.8 760,1178.4 780,1191.2 800,1204.3 820,1217.5 840,1231.1 860,1244.8 880,1258.8 900,1273.1 920,1287.7 940,1302.5 960,1317.6 980,1333.0 1000,1348.7 1020,1364.7 1040,1381.0 1060,1397.6 1080,1414.5 1100,1431.8 1120,1449.4 1140,1467.3 1160,1485.7 1180,1504.3 1200,1523.4 1220,1542.8 1240,1562.6 1260,1582.8 1280,1603.4 1300,1624.4 1320,1645.9 1340,1667.8 1360,1690.1 1380,1712.9 1400,1736.1 1420,1759.8 1440,1784.0 1460,1808.7 1480,1833.9 1500,1859.6"/><polyline points="0,840.0 20,846.7 40,853.6 60,860.6 80,867.8 100,875.0 120,882.4 140,889.9 160,897.6 180,905.3 200,913.2 220,921.2 240,929.4 260,937.7 280,946.1 300,954.7 320,963.4 340,972.2 360,981.2 380,990.3 400,999.6 420,1009.1 440,1018.7 460,1028.4 480,1038.3 500,1048.4 520,1058.6 540,1069.0 560,1079.6 580,1090.4 600,1101.4 620,1112.5 640,1123.8 660,1135.3 680,1147.1 700,1159.0 720,1171.2 740,1183.5 760,1196.1 780,1208.9 800,1221.9 820,1235.2 840,1248.7 860,1262.5 880,1276.5 900,1290.8 920,1305.4 940,1320.2 960,1335.3 980,1350.7 1000,1366.4 1020,1382.4 1040,1398.7 1060,1415.3 1080,1432.2 1100,1449.5 1120,1467.1 1140,1485.0 1160,1503.3 1180,1522.0 1200,1541.0 1220,1560.5 1240,1580.3 1260,1600.5 1280,1621.1 1300,1642.1 1320,1663.6 1340,1685.4 1360,1707.8 1380,1730.6 1400,1753.8 1420,1777.5 1440,1801.7 1460,1826.4 1480,1851.6 1500,1877.3"/></g>
</svg>
<svg width="120" height="140" style="position:absolute;left:0;top:0"><polygon points="0,19.5 53,76 0,132.5" fill="#1f3a6c"/><polygon points="18.7,75.5 42.3,52.5 65.7,75.5 42.3,98.5" fill="#a7a7a9"/></svg>
<div style="position:absolute;left:72.90px;top:57.40px;line-height:41.40px;font-size:36px;color:#15225a;font-weight:bold;white-space:nowrap;letter-spacing:0.2px;">CPRM - Carpark Overview</div>
<svg width="1500" height="200" style="position:absolute;left:0;top:0"><ellipse cx="1400" cy="9" rx="162" ry="132" fill="#b7d9e3"/><ellipse cx="1393" cy="10.6" rx="138" ry="127" fill="#72c8dc"/><ellipse cx="1391.5" cy="22" rx="118.6" ry="112.7" fill="#ffffff"/></svg>
<div style="position:absolute;left:1311.00px;top:40.77px;line-height:26.45px;font-size:23px;color:#4a5357;font-weight:bold;white-space:nowrap;letter-spacing:0.7px;">Gray</div>
<div style="position:absolute;left:1389.6px;top:40px;font-size:24px;line-height:30px;height:30px;font-weight:bold;color:#1a9cc6;letter-spacing:1.3px;white-space:nowrap;transform:scaleY(0.86);transform-origin:0 23.4px;">Matter</div>
<div style="position:absolute;left:1313.30px;top:72.72px;line-height:17.25px;font-size:15px;color:#858585;font-weight:normal;white-space:nowrap;font-style:italic;letter-spacing:0.75px;">Empowering Intuition</div>
<svg width="70" height="70" style="position:absolute;left:1350px;top:12px" viewBox="1350 12 70 70"><g stroke="#1a9cc6" stroke-width="3.2" fill="none" stroke-linecap="butt" stroke-linejoin="miter"><path d="M1373.2,19.2 L1381.6,16.8 L1390,19.6 M1381.6,17 L1381.6,27"/><path d="M1369.6,26.8 L1355.2,31.6 L1381.6,41.8 L1406.8,31.6 L1394.8,27.4"/><path d="M1355.2,31.6 L1356.4,45.4 M1406.8,31.6 L1405.6,43"/><path d="M1381.6,41.8 L1381.6,71.6"/><path d="M1369,64 L1381.6,71.8 L1388.8,65.8"/></g></svg>
<div style="position:absolute;left:38px;top:196.6px;width:1413px;height:520px;border:1px solid #8b8b8b;background:#ffffff;"></div>
<div style="position:absolute;left:42px;top:199px;width:197px;height:518px;background:#f9f9f9;"></div>
<div style="position:absolute;left:42px;top:199px;width:197px;height:37.9px;background:#7ab800;"></div>
<div style="position:absolute;left:44.50px;top:209.76px;width:197px;line-height:17.82px;font-size:15.5px;color:#ffffff;font-weight:bold;white-space:nowrap;text-align:center;">CPRMS</div>
<div style="position:absolute;left:42px;top:236.9px;width:197px;height:2px;background:#ece7ef;"></div>
<div style="position:absolute;left:42px;top:238.9px;width:197px;height:32.6px;background:#d9d8dc;"></div>
<div style="position:absolute;left:68.80px;top:249.22px;line-height:14.20px;font-size:12.35px;color:#2b3856;font-weight:normal;white-space:nowrap;">Management Overview</div>
<svg width="10" height="8" style="position:absolute;left:51.5px;top:251.5px"><path d="M1,1.5 L4.5,5.5 L8,1.5" stroke="#2b3856" stroke-width="1.8" fill="none"/></svg>
<div style="position:absolute;left:42px;top:271.5px;width:197px;height:36.8px;background:#ffffff;"></div>
<div style="position:absolute;left:42px;top:274.8px;width:3px;height:67.4px;background:#7ab800;"></div>
<div style="position:absolute;left:76.90px;top:284.02px;line-height:14.20px;font-size:12.35px;color:#7ab800;font-weight:normal;white-space:nowrap;">Carpark Overview</div>
<div style="position:absolute;left:45px;top:308.3px;width:194px;height:1px;background:#e3e3e3;"></div>
<div style="position:absolute;left:42px;top:309.3px;width:197px;height:33px;background:#ffffff;"></div>
<div style="position:absolute;left:42px;top:309.3px;width:3px;height:33px;background:#7ab800;"></div>
<div style="position:absolute;left:76.90px;top:318.12px;line-height:14.20px;font-size:12.35px;color:#3b4760;font-weight:normal;white-space:nowrap;">Business Overview</div>
<svg width="8" height="8" style="position:absolute;left:62.3px;top:288.2px"><path d="M1,1 L6,6 M6,1 L1,6" stroke="#7ab800" stroke-width="1.6"/></svg>
<svg width="8" height="8" style="position:absolute;left:62.3px;top:321.5px"><path d="M1,1 L6,6 M6,1 L1,6" stroke="#7ab800" stroke-width="1.6"/></svg>
<div style="position:absolute;left:42px;top:342.5px;width:197px;height:34.4px;background:#ececec;"></div>
<div style="position:absolute;left:68.60px;top:353.72px;line-height:14.20px;font-size:12.35px;color:#3b4760;font-weight:normal;white-space:nowrap;">Business Head</div>
<svg width="8" height="10" style="position:absolute;left:52.5px;top:356.3px"><path d="M1.5,1 L5.5,4.5 L1.5,8" stroke="#6b6b6b" stroke-width="1.8" fill="none"/></svg>
<div style="position:absolute;left:42px;top:378.9px;width:197px;height:34.4px;background:#ececec;"></div>
<div style="position:absolute;left:68.60px;top:390.12px;line-height:14.20px;font-size:12.35px;color:#3b4760;font-weight:normal;white-space:nowrap;">Price Analyst</div>
<svg width="8" height="10" style="position:absolute;left:52.5px;top:392.7px"><path d="M1.5,1 L5.5,4.5 L1.5,8" stroke="#6b6b6b" stroke-width="1.8" fill="none"/></svg>
<div style="position:absolute;left:42px;top:414.1px;width:197px;height:34.4px;background:#ececec;"></div>
<div style="position:absolute;left:68.60px;top:425.32px;line-height:14.20px;font-size:12.35px;color:#3b4760;font-weight:normal;white-space:nowrap;">Super User</div>
<svg width="8" height="10" style="position:absolute;left:52.5px;top:427.90000000000003px"><path d="M1.5,1 L5.5,4.5 L1.5,8" stroke="#6b6b6b" stroke-width="1.8" fill="none"/></svg>
<div style="position:absolute;left:42px;top:449.3px;width:197px;height:34.4px;background:#ececec;"></div>
<div style="position:absolute;left:68.60px;top:460.52px;line-height:14.20px;font-size:12.35px;color:#3b4760;font-weight:normal;white-space:nowrap;">Data Scientist</div>
<svg width="8" height="10" style="position:absolute;left:52.5px;top:463.1px"><path d="M1.5,1 L5.5,4.5 L1.5,8" stroke="#6b6b6b" stroke-width="1.8" fill="none"/></svg>
<div style="position:absolute;left:42px;top:484.5px;width:197px;height:34.4px;background:#ececec;"></div>
<div style="position:absolute;left:68.60px;top:495.72px;line-height:14.20px;font-size:12.35px;color:#3b4760;font-weight:normal;white-space:nowrap;">Calibration Outputs</div>
<svg width="8" height="10" style="position:absolute;left:52.5px;top:498.3px"><path d="M1.5,1 L5.5,4.5 L1.5,8" stroke="#6b6b6b" stroke-width="1.8" fill="none"/></svg>
<div style="position:absolute;left:239px;top:198px;width:1213px;height:519px;background:#f9f9f9;"></div>
<div style="position:absolute;left:239px;top:198px;width:1213px;height:33.5px;background:#ffffff;"></div>
<div style="position:absolute;left:249px;top:231px;width:1188px;height:1px;background:#dcdcdc;"></div>
<div style="position:absolute;left:248.00px;top:206.82px;line-height:16.10px;font-size:14px;color:#16213f;font-weight:bold;white-space:nowrap;letter-spacing:0.25px;">Carpark Overview</div>
<svg width="22" height="22" style="position:absolute;left:1403px;top:205px" viewBox="0 0 22 22"><path d="M11,1.5 Q12,1.5 12.6,2.6 L20.4,17.6 Q21,19.6 19,19.8 L3,19.8 Q1,19.6 1.6,17.6 L9.4,2.6 Q10,1.5 11,1.5 Z" fill="#f76e5e"/><rect x="10" y="6.5" width="2" height="7" fill="#fff"/><rect x="10" y="15" width="2" height="2" fill="#fff"/></svg>
<div style="position:absolute;left:1441.4px;top:232.5px;width:10.6px;height:484.5px;background:#fdfdfd;"></div>
<div style="position:absolute;left:1443.8px;top:240.4px;width:7.4px;height:153.8px;background:#6a798f;border-radius:4px;"></div>
<div style="position:absolute;left:1440.4px;top:432px;width:11.2px;height:25.6px;background:#b2c1da;border:1px solid #7e8ca3;border-right:none;"></div>
<svg width="8" height="12" style="position:absolute;left:1443.5px;top:439px"><path d="M6,0.5 L0.8,6 L6,11.5 Z" fill="#3f4c66"/></svg>
<div style="position:absolute;left:245.5px;top:241.8px;width:206.5px;height:156.5px;background:#fff;border:1px solid #d8dbe0;border-radius:6px;box-sizing:border-box;box-shadow:0 2px 3px rgba(0,0,0,0.12);"></div>
<div style="position:absolute;left:262.00px;top:250.96px;line-height:16.56px;font-size:14.4px;color:#2b3856;font-weight:normal;white-space:nowrap;">Net Revenue (In M)</div>
<div style="position:absolute;left:295.1px;top:279.0px;width:143.7px;height:19.7px;background:#63c3c3;"></div>
<div style="position:absolute;right:1066.00px;top:280.38px;line-height:16.79px;font-size:14.6px;color:#ffffff;font-weight:normal;white-space:nowrap;text-align:right;-webkit-text-stroke:0.35px #fff;">3.50</div>
<div style="position:absolute;left:240.50px;top:281.65px;width:60px;line-height:14.03px;font-size:12.2px;color:#2b3856;font-weight:normal;white-space:nowrap;text-align:center;">LP</div>
<div style="position:absolute;left:295.1px;top:298.6px;width:136.30971428571428px;height:19.7px;background:#6e5996;"></div>
<div style="position:absolute;right:1073.39px;top:299.98px;line-height:16.79px;font-size:14.6px;color:#ffffff;font-weight:normal;white-space:nowrap;text-align:right;-webkit-text-stroke:0.35px #fff;">3.32</div>
<div style="position:absolute;left:240.50px;top:301.25px;width:60px;line-height:14.03px;font-size:12.2px;color:#1d9a9c;font-weight:normal;white-space:nowrap;text-align:center;">CP</div>
<div style="position:absolute;left:295.1px;top:318.3px;width:142.87885714285713px;height:19.7px;background:#f2bb36;"></div>
<div style="position:absolute;right:1066.82px;top:319.68px;line-height:16.79px;font-size:14.6px;color:#ffffff;font-weight:normal;white-space:nowrap;text-align:right;-webkit-text-stroke:0.35px #fff;">3.48</div>
<div style="position:absolute;left:240.50px;top:320.95px;width:60px;line-height:14.03px;font-size:12.2px;color:#1d9a9c;font-weight:normal;white-space:nowrap;text-align:center;">SDLP</div>
<div style="position:absolute;left:246.5px;top:356.1px;width:204.5px;height:1.2px;background:#cbd5e1;"></div>
<div style="position:absolute;left:348.85px;top:357px;width:1.2px;height:40.30000000000001px;background:#cbd5e1;"></div>
<div style="position:absolute;left:247.43px;top:359.75px;width:100px;line-height:14.03px;font-size:12.2px;color:#2b3856;font-weight:normal;white-space:nowrap;text-align:center;">Vs LP</div>
<div style="position:absolute;left:247.43px;top:381.33px;width:100px;line-height:13.80px;font-size:12px;color:#cf2420;font-weight:bold;white-space:nowrap;text-align:center;">-5.05%</div>
<svg width="12" height="9" style="position:absolute;left:328.68px;top:383.2px"><path d="M0,0.1 L11.2,0.1 L5.6,8.1 Z" fill="#cf2420"/></svg>
<div style="position:absolute;left:350.68px;top:359.75px;width:100px;line-height:14.03px;font-size:12.2px;color:#2b3856;font-weight:normal;white-space:nowrap;text-align:center;">Vs SDLP</div>
<div style="position:absolute;left:350.68px;top:381.33px;width:100px;line-height:13.80px;font-size:12px;color:#cf2420;font-weight:bold;white-space:nowrap;text-align:center;">-4.53%</div>
<svg width="12" height="9" style="position:absolute;left:431.57px;top:383.2px"><path d="M0,0.1 L11.2,0.1 L5.6,8.1 Z" fill="#cf2420"/></svg>
<div style="position:absolute;left:461.2px;top:241.8px;width:201.2px;height:156.5px;background:#fff;border:1px solid #d8dbe0;border-radius:6px;box-sizing:border-box;box-shadow:0 2px 3px rgba(0,0,0,0.12);"></div>
<div style="position:absolute;left:477.70px;top:250.96px;line-height:16.56px;font-size:14.4px;color:#2b3856;font-weight:normal;white-space:nowrap;">Transactions (In K)</div>
<div style="position:absolute;left:508.8px;top:279.0px;width:119.85365853658531px;height:19.7px;background:#63c3c3;"></div>
<div style="position:absolute;right:876.15px;top:280.38px;line-height:16.79px;font-size:14.6px;color:#ffffff;font-weight:normal;white-space:nowrap;text-align:right;-webkit-text-stroke:0.35px #fff;">4.20</div>
<div style="position:absolute;left:455.10px;top:281.65px;width:60px;line-height:14.03px;font-size:12.2px;color:#2b3856;font-weight:normal;white-space:nowrap;text-align:center;">LP</div>
<div style="position:absolute;left:508.8px;top:298.6px;width:129.27073170731703px;height:19.7px;background:#6e5996;"></div>
<div style="position:absolute;right:866.73px;top:299.98px;line-height:16.79px;font-size:14.6px;color:#ffffff;font-weight:normal;white-space:nowrap;text-align:right;-webkit-text-stroke:0.35px #fff;">4.53</div>
<div style="position:absolute;left:455.10px;top:301.25px;width:60px;line-height:14.03px;font-size:12.2px;color:#1d9a9c;font-weight:normal;white-space:nowrap;text-align:center;">CP</div>
<div style="position:absolute;left:508.8px;top:318.3px;width:140.39999999999992px;height:19.7px;background:#f2bb36;"></div>
<div style="position:absolute;right:855.60px;top:319.68px;line-height:16.79px;font-size:14.6px;color:#ffffff;font-weight:normal;white-space:nowrap;text-align:right;-webkit-text-stroke:0.35px #fff;">4.92</div>
<div style="position:absolute;left:455.10px;top:320.95px;width:60px;line-height:14.03px;font-size:12.2px;color:#1d9a9c;font-weight:normal;white-space:nowrap;text-align:center;">SDLP</div>
<div style="position:absolute;left:462.2px;top:356.1px;width:199.2px;height:1.2px;background:#cbd5e1;"></div>
<div style="position:absolute;left:561.9px;top:357px;width:1.2px;height:40.30000000000001px;background:#cbd5e1;"></div>
<div style="position:absolute;left:461.80px;top:359.75px;width:100px;line-height:14.03px;font-size:12.2px;color:#2b3856;font-weight:normal;white-space:nowrap;text-align:center;">Vs LP</div>
<div style="position:absolute;left:461.80px;top:381.33px;width:100px;line-height:13.80px;font-size:12px;color:#1c9b2b;font-weight:bold;white-space:nowrap;text-align:center;">7.85%</div>
<svg width="12" height="9" style="position:absolute;left:542.26px;top:383.0px"><path d="M5.6,0.2 L11.2,8.2 L0,8.2 Z" fill="#1c9b2b"/></svg>
<div style="position:absolute;left:562.40px;top:359.75px;width:100px;line-height:14.03px;font-size:12.2px;color:#2b3856;font-weight:normal;white-space:nowrap;text-align:center;">Vs SDLP</div>
<div style="position:absolute;left:562.40px;top:381.33px;width:100px;line-height:13.80px;font-size:12px;color:#cf2420;font-weight:bold;white-space:nowrap;text-align:center;">-7.86%</div>
<svg width="12" height="9" style="position:absolute;left:642.50px;top:383.2px"><path d="M0,0.1 L11.2,0.1 L5.6,8.1 Z" fill="#cf2420"/></svg>
<div style="position:absolute;left:671.6px;top:241.8px;width:201.0px;height:156.5px;background:#fff;border:1px solid #d8dbe0;border-radius:6px;box-sizing:border-box;box-shadow:0 2px 3px rgba(0,0,0,0.12);"></div>
<div style="position:absolute;left:688.10px;top:250.96px;line-height:16.56px;font-size:14.4px;color:#2b3856;font-weight:normal;white-space:nowrap;">Staydays (In K)</div>
<div style="position:absolute;left:718.9px;top:279.0px;width:140.5px;height:19.7px;background:#63c3c3;"></div>
<div style="position:absolute;right:645.40px;top:280.38px;line-height:16.79px;font-size:14.6px;color:#ffffff;font-weight:normal;white-space:nowrap;text-align:right;-webkit-text-stroke:0.35px #fff;">41.22</div>
<div style="position:absolute;left:665.50px;top:281.65px;width:60px;line-height:14.03px;font-size:12.2px;color:#2b3856;font-weight:normal;white-space:nowrap;text-align:center;">LP</div>
<div style="position:absolute;left:718.9px;top:298.6px;width:137.94359534206697px;height:19.7px;background:#6e5996;"></div>
<div style="position:absolute;right:647.96px;top:299.98px;line-height:16.79px;font-size:14.6px;color:#ffffff;font-weight:normal;white-space:nowrap;text-align:right;-webkit-text-stroke:0.35px #fff;">40.47</div>
<div style="position:absolute;left:665.50px;top:301.25px;width:60px;line-height:14.03px;font-size:12.2px;color:#1d9a9c;font-weight:normal;white-space:nowrap;text-align:center;">CP</div>
<div style="position:absolute;left:718.9px;top:318.3px;width:138.31853469189713px;height:19.7px;background:#f2bb36;"></div>
<div style="position:absolute;right:647.58px;top:319.68px;line-height:16.79px;font-size:14.6px;color:#ffffff;font-weight:normal;white-space:nowrap;text-align:right;-webkit-text-stroke:0.35px #fff;">40.58</div>
<div style="position:absolute;left:665.50px;top:320.95px;width:60px;line-height:14.03px;font-size:12.2px;color:#1d9a9c;font-weight:normal;white-space:nowrap;text-align:center;">SDLP</div>
<div style="position:absolute;left:672.6px;top:356.1px;width:199.0px;height:1.2px;background:#cbd5e1;"></div>
<div style="position:absolute;left:772.2px;top:357px;width:1.2px;height:40.30000000000001px;background:#cbd5e1;"></div>
<div style="position:absolute;left:672.15px;top:359.75px;width:100px;line-height:14.03px;font-size:12.2px;color:#2b3856;font-weight:normal;white-space:nowrap;text-align:center;">Vs LP</div>
<div style="position:absolute;left:672.15px;top:381.33px;width:100px;line-height:13.80px;font-size:12px;color:#cf2420;font-weight:bold;white-space:nowrap;text-align:center;">-1.82%</div>
<svg width="12" height="9" style="position:absolute;left:752.58px;top:383.2px"><path d="M0,0.1 L11.2,0.1 L5.6,8.1 Z" fill="#cf2420"/></svg>
<div style="position:absolute;left:772.65px;top:359.75px;width:100px;line-height:14.03px;font-size:12.2px;color:#2b3856;font-weight:normal;white-space:nowrap;text-align:center;">Vs SDLP</div>
<div style="position:absolute;left:772.65px;top:381.33px;width:100px;line-height:13.80px;font-size:12px;color:#cf2420;font-weight:bold;white-space:nowrap;text-align:center;">-0.26%</div>
<svg width="12" height="9" style="position:absolute;left:852.72px;top:383.2px"><path d="M0,0.1 L11.2,0.1 L5.6,8.1 Z" fill="#cf2420"/></svg>
<div style="position:absolute;left:882.0px;top:241.8px;width:178.29999999999995px;height:156.5px;background:#fff;border:1px solid #d8dbe0;border-radius:6px;box-sizing:border-box;box-shadow:0 2px 3px rgba(0,0,0,0.12);"></div>
<div style="position:absolute;left:898.50px;top:250.96px;line-height:16.56px;font-size:14.4px;color:#2b3856;font-weight:normal;white-space:nowrap;">ATV (Average)</div>
<div style="position:absolute;left:1037.1px;top:252.8px;width:13.2px;height:13px;background:#7cb51e;border-radius:3px;"><div style="position:absolute;left:0;top:0;width:13px;line-height:13px;text-align:center;color:#fff;font-size:11px;font-weight:bold;font-style:italic;">i</div></div>
<div style="position:absolute;left:923.9px;top:279.0px;width:123.19999999999993px;height:19.7px;background:#63c3c3;"></div>
<div style="position:absolute;right:457.70px;top:280.38px;line-height:16.79px;font-size:14.6px;color:#ffffff;font-weight:normal;white-space:nowrap;text-align:right;-webkit-text-stroke:0.35px #fff;">832.62</div>
<div style="position:absolute;left:873.00px;top:281.65px;width:60px;line-height:14.03px;font-size:12.2px;color:#2b3856;font-weight:normal;white-space:nowrap;text-align:center;">LP</div>
<div style="position:absolute;left:923.9px;top:298.6px;width:108.45808171795049px;height:19.7px;background:#6e5996;"></div>
<div style="position:absolute;right:472.44px;top:299.98px;line-height:16.79px;font-size:14.6px;color:#ffffff;font-weight:normal;white-space:nowrap;text-align:right;-webkit-text-stroke:0.35px #fff;">732.99</div>
<div style="position:absolute;left:873.00px;top:301.25px;width:60px;line-height:14.03px;font-size:12.2px;color:#1d9a9c;font-weight:normal;white-space:nowrap;text-align:center;">CP</div>
<div style="position:absolute;left:923.9px;top:318.3px;width:88.9042876702457px;height:19.7px;background:#f2bb36;"></div>
<div style="position:absolute;right:492.00px;top:319.68px;line-height:16.79px;font-size:14.6px;color:#ffffff;font-weight:normal;white-space:nowrap;text-align:right;-webkit-text-stroke:0.35px #fff;">600.84</div>
<div style="position:absolute;left:873.00px;top:320.95px;width:60px;line-height:14.03px;font-size:12.2px;color:#1d9a9c;font-weight:normal;white-space:nowrap;text-align:center;">SDLP</div>
<div style="position:absolute;left:883.0px;top:356.1px;width:176.29999999999995px;height:1.2px;background:#cbd5e1;"></div>
<div style="position:absolute;left:971.25px;top:357px;width:1.2px;height:40.30000000000001px;background:#cbd5e1;"></div>
<div style="position:absolute;left:876.88px;top:359.75px;width:100px;line-height:14.03px;font-size:12.2px;color:#2b3856;font-weight:normal;white-space:nowrap;text-align:center;">Vs LP</div>
<div style="position:absolute;left:876.88px;top:381.33px;width:100px;line-height:13.80px;font-size:12px;color:#cf2420;font-weight:bold;white-space:nowrap;text-align:center;">-11.96%</div>
<svg width="12" height="9" style="position:absolute;left:953.90px;top:383.2px"><path d="M0,0.1 L11.2,0.1 L5.6,8.1 Z" fill="#cf2420"/></svg>
<div style="position:absolute;left:966.02px;top:359.75px;width:100px;line-height:14.03px;font-size:12.2px;color:#2b3856;font-weight:normal;white-space:nowrap;text-align:center;">Vs SDLP</div>
<div style="position:absolute;left:966.02px;top:381.33px;width:100px;line-height:13.80px;font-size:12px;color:#1c9b2b;font-weight:bold;white-space:nowrap;text-align:center;">21.99%</div>
<svg width="12" height="9" style="position:absolute;left:1042.69px;top:383.0px"><path d="M5.6,0.2 L11.2,8.2 L0,8.2 Z" fill="#1c9b2b"/></svg>
<div style="position:absolute;left:1069.7px;top:241.8px;width:177.89999999999986px;height:156.5px;background:#fff;border:1px solid #d8dbe0;border-radius:6px;box-sizing:border-box;box-shadow:0 2px 3px rgba(0,0,0,0.12);"></div>
<div style="position:absolute;left:1086.20px;top:250.96px;line-height:16.56px;font-size:14.4px;color:#2b3856;font-weight:normal;white-space:nowrap;">ADR (Average)</div>
<div style="position:absolute;left:1224.3999999999999px;top:252.8px;width:13.2px;height:13px;background:#7cb51e;border-radius:3px;"><div style="position:absolute;left:0;top:0;width:13px;line-height:13px;text-align:center;color:#fff;font-size:11px;font-weight:bold;font-style:italic;">i</div></div>
<div style="position:absolute;left:1111.5px;top:279.0px;width:121.95218508997417px;height:19.7px;background:#63c3c3;"></div>
<div style="position:absolute;right:271.35px;top:280.38px;line-height:16.79px;font-size:14.6px;color:#ffffff;font-weight:normal;white-space:nowrap;text-align:right;-webkit-text-stroke:0.35px #fff;">84.92</div>
<div style="position:absolute;left:1060.70px;top:281.65px;width:60px;line-height:14.03px;font-size:12.2px;color:#2b3856;font-weight:normal;white-space:nowrap;text-align:center;">LP</div>
<div style="position:absolute;left:1111.5px;top:298.6px;width:117.93115213834996px;height:19.7px;background:#6e5996;"></div>
<div style="position:absolute;right:275.37px;top:299.98px;line-height:16.79px;font-size:14.6px;color:#ffffff;font-weight:normal;white-space:nowrap;text-align:right;-webkit-text-stroke:0.35px #fff;">82.12</div>
<div style="position:absolute;left:1060.70px;top:301.25px;width:60px;line-height:14.03px;font-size:12.2px;color:#1d9a9c;font-weight:normal;white-space:nowrap;text-align:center;">CP</div>
<div style="position:absolute;left:1111.5px;top:318.3px;width:122.89999999999986px;height:19.7px;background:#f2bb36;"></div>
<div style="position:absolute;right:270.40px;top:319.68px;line-height:16.79px;font-size:14.6px;color:#ffffff;font-weight:normal;white-space:nowrap;text-align:right;-webkit-text-stroke:0.35px #fff;">85.58</div>
<div style="position:absolute;left:1060.70px;top:320.95px;width:60px;line-height:14.03px;font-size:12.2px;color:#1d9a9c;font-weight:normal;white-space:nowrap;text-align:center;">SDLP</div>
<div style="position:absolute;left:1070.7px;top:356.1px;width:175.89999999999986px;height:1.2px;background:#cbd5e1;"></div>
<div style="position:absolute;left:1158.75px;top:357px;width:1.2px;height:40.30000000000001px;background:#cbd5e1;"></div>
<div style="position:absolute;left:1064.47px;top:359.75px;width:100px;line-height:14.03px;font-size:12.2px;color:#2b3856;font-weight:normal;white-space:nowrap;text-align:center;">Vs LP</div>
<div style="position:absolute;left:1064.47px;top:381.33px;width:100px;line-height:13.80px;font-size:12px;color:#cf2420;font-weight:bold;white-space:nowrap;text-align:center;">-3.29%</div>
<svg width="12" height="9" style="position:absolute;left:1141.44px;top:383.2px"><path d="M0,0.1 L11.2,0.1 L5.6,8.1 Z" fill="#cf2420"/></svg>
<div style="position:absolute;left:1153.42px;top:359.75px;width:100px;line-height:14.03px;font-size:12.2px;color:#2b3856;font-weight:normal;white-space:nowrap;text-align:center;">Vs SDLP</div>
<div style="position:absolute;left:1153.42px;top:381.33px;width:100px;line-height:13.80px;font-size:12px;color:#cf2420;font-weight:bold;white-space:nowrap;text-align:center;">-4.04%</div>
<svg width="12" height="9" style="position:absolute;left:1230.03px;top:383.2px"><path d="M0,0.1 L11.2,0.1 L5.6,8.1 Z" fill="#cf2420"/></svg>
<div style="position:absolute;left:1257.0px;top:241.8px;width:183.4000000000001px;height:156.5px;background:#fff;border:1px solid #d8dbe0;border-radius:6px;box-sizing:border-box;box-shadow:0 2px 3px rgba(0,0,0,0.12);"></div>
<div style="position:absolute;left:1273.50px;top:250.96px;line-height:16.56px;font-size:14.4px;color:#2b3856;font-weight:normal;white-space:nowrap;">LOS (Average)</div>
<div style="position:absolute;left:1417.2px;top:252.8px;width:13.2px;height:13px;background:#7cb51e;border-radius:3px;"><div style="position:absolute;left:0;top:0;width:13px;line-height:13px;text-align:center;color:#fff;font-size:11px;font-weight:bold;font-style:italic;">i</div></div>
<div style="position:absolute;left:1300.4px;top:279.0px;width:122.4575342465753px;height:19.7px;background:#63c3c3;"></div>
<div style="position:absolute;right:81.94px;top:280.38px;line-height:16.79px;font-size:14.6px;color:#ffffff;font-weight:normal;white-space:nowrap;text-align:right;-webkit-text-stroke:0.35px #fff;">7.05</div>
<div style="position:absolute;left:1248.70px;top:281.65px;width:60px;line-height:14.03px;font-size:12.2px;color:#2b3856;font-weight:normal;white-space:nowrap;text-align:center;">LP</div>
<div style="position:absolute;left:1300.4px;top:298.6px;width:126.79999999999995px;height:19.7px;background:#6e5996;"></div>
<div style="position:absolute;right:77.60px;top:299.98px;line-height:16.79px;font-size:14.6px;color:#ffffff;font-weight:normal;white-space:nowrap;text-align:right;-webkit-text-stroke:0.35px #fff;">7.30</div>
<div style="position:absolute;left:1248.70px;top:301.25px;width:60px;line-height:14.03px;font-size:12.2px;color:#1d9a9c;font-weight:normal;white-space:nowrap;text-align:center;">CP</div>
<div style="position:absolute;left:1300.4px;top:318.3px;width:106.30356164383558px;height:19.7px;background:#f2bb36;"></div>
<div style="position:absolute;right:98.10px;top:319.68px;line-height:16.79px;font-size:14.6px;color:#ffffff;font-weight:normal;white-space:nowrap;text-align:right;-webkit-text-stroke:0.35px #fff;">6.12</div>
<div style="position:absolute;left:1248.70px;top:320.95px;width:60px;line-height:14.03px;font-size:12.2px;color:#1d9a9c;font-weight:normal;white-space:nowrap;text-align:center;">SDLP</div>
<div style="position:absolute;left:1258.0px;top:356.1px;width:181.4000000000001px;height:1.2px;background:#cbd5e1;"></div>
<div style="position:absolute;left:1348.8px;top:357px;width:1.2px;height:40.30000000000001px;background:#cbd5e1;"></div>
<div style="position:absolute;left:1253.15px;top:359.75px;width:100px;line-height:14.03px;font-size:12.2px;color:#2b3856;font-weight:normal;white-space:nowrap;text-align:center;">Vs LP</div>
<div style="position:absolute;left:1253.15px;top:381.33px;width:100px;line-height:13.80px;font-size:12px;color:#1c9b2b;font-weight:bold;white-space:nowrap;text-align:center;">3.60%</div>
<svg width="12" height="9" style="position:absolute;left:1330.94px;top:383.0px"><path d="M5.6,0.2 L11.2,8.2 L0,8.2 Z" fill="#1c9b2b"/></svg>
<div style="position:absolute;left:1344.85px;top:359.75px;width:100px;line-height:14.03px;font-size:12.2px;color:#2b3856;font-weight:normal;white-space:nowrap;text-align:center;">Vs SDLP</div>
<div style="position:absolute;left:1344.85px;top:381.33px;width:100px;line-height:13.80px;font-size:12px;color:#1c9b2b;font-weight:bold;white-space:nowrap;text-align:center;">19.27%</div>
<svg width="12" height="9" style="position:absolute;left:1422.28px;top:383.0px"><path d="M5.6,0.2 L11.2,8.2 L0,8.2 Z" fill="#1c9b2b"/></svg>
<div style="position:absolute;left:245.5px;top:407.6px;width:395.70000000000005px;height:301.5px;background:#fff;border:1px solid #d8dbe0;border-radius:6px;box-sizing:border-box;box-shadow:0 2px 3px rgba(0,0,0,0.12);"></div>
<div style="position:absolute;left:254.70px;top:415.62px;line-height:16.62px;font-size:14.45px;color:#2b3856;font-weight:normal;white-space:nowrap;">Net Revenue (Current Month)</div>
<div style="position:absolute;left:250.7px;top:438.0px;width:92.6px;height:2px;background:#6fb22a;"></div>
<div style="position:absolute;left:300.1px;top:460.5px;width:1px;height:190.0px;background:#cccccc;"></div>
<div style="position:absolute;left:295.1px;top:460.0px;width:5px;height:1px;background:#cccccc;"></div>
<div style="position:absolute;left:295.1px;top:523.4px;width:5px;height:1px;background:#cccccc;"></div>
<div style="position:absolute;left:295.1px;top:586.8px;width:5px;height:1px;background:#cccccc;"></div>
<div style="position:absolute;left:295.1px;top:650.0px;width:5px;height:1px;background:#cccccc;"></div>
<div style="position:absolute;left:300.1px;top:650.0px;width:277.6px;height:1px;background:#cccccc;"></div>
<div style="position:absolute;left:300.1px;top:650.0px;width:1px;height:6px;background:#cccccc;"></div>
<div style="position:absolute;left:369.25px;top:650.0px;width:1px;height:6px;background:#cccccc;"></div>
<div style="position:absolute;left:438.40000000000003px;top:650.0px;width:1px;height:6px;background:#cccccc;"></div>
<div style="position:absolute;left:507.55px;top:650.0px;width:1px;height:6px;background:#cccccc;"></div>
<div style="position:absolute;left:576.7px;top:650.0px;width:1px;height:6px;background:#cccccc;"></div>
<div style="position:absolute;left:258.0px;top:587.9px;width:42.10000000000002px;height:61.7px;background:#e9e9e9;"></div>
<div style="position:absolute;left:301.1px;top:471.3px;width:240.39999999999998px;height:40.69999999999999px;background:#63c3c3;"></div>
<div style="position:absolute;right:964.30px;top:484.98px;line-height:14.32px;font-size:12.45px;color:#ffffff;font-weight:normal;white-space:nowrap;text-align:right;-webkit-text-stroke:0.3px #fff;">3,500,315</div>
<div style="position:absolute;right:1205.90px;top:484.88px;line-height:14.37px;font-size:12.5px;color:#404040;font-weight:normal;white-space:nowrap;text-align:right;">LP</div>
<div style="position:absolute;left:301.1px;top:535.3px;width:228.0px;height:40.40000000000009px;background:#6e5996;"></div>
<div style="position:absolute;right:976.70px;top:548.83px;line-height:14.32px;font-size:12.45px;color:#ffffff;font-weight:normal;white-space:nowrap;text-align:right;-webkit-text-stroke:0.3px #fff;">3,323,396</div>
<div style="position:absolute;right:1205.90px;top:548.28px;line-height:14.37px;font-size:12.5px;color:#404040;font-weight:normal;white-space:nowrap;text-align:right;">CP</div>
<div style="position:absolute;left:301.1px;top:596.4px;width:241.10000000000002px;height:43.60000000000002px;background:#f2bb36;border:2px solid #5d5d5d;box-sizing:border-box;"></div>
<div style="position:absolute;right:963.60px;top:611.53px;line-height:14.32px;font-size:12.45px;color:#ffffff;font-weight:normal;white-space:nowrap;text-align:right;-webkit-text-stroke:0.3px #fff;">3,480,975</div>
<div style="position:absolute;right:1205.90px;top:611.68px;line-height:14.37px;font-size:12.5px;color:#404040;font-weight:normal;white-space:nowrap;text-align:right;">SDLP</div>
<div style="position:absolute;right:871.00px;top:515.63px;line-height:13.80px;font-size:12px;color:#cf2420;font-weight:bold;white-space:nowrap;text-align:right;">-5.05%</div>
<div style="position:absolute;right:871.00px;top:591.83px;line-height:13.80px;font-size:12px;color:#cf2420;font-weight:bold;white-space:nowrap;text-align:right;">-4.53%</div>
<div style="position:absolute;left:250.60px;top:662.62px;width:100px;line-height:14.20px;font-size:12.35px;color:#666666;font-weight:normal;white-space:nowrap;text-align:center;">0</div>
<div style="position:absolute;left:319.75px;top:662.62px;width:100px;line-height:14.20px;font-size:12.35px;color:#666666;font-weight:normal;white-space:nowrap;text-align:center;">1,000,000</div>
<div style="position:absolute;left:388.90px;top:662.62px;width:100px;line-height:14.20px;font-size:12.35px;color:#666666;font-weight:normal;white-space:nowrap;text-align:center;">2,000,000</div>
<div style="position:absolute;right:922.60px;top:662.62px;line-height:14.20px;font-size:12.35px;color:#666666;font-weight:normal;white-space:nowrap;text-align:right;">4,000,000</div>
<div style="position:absolute;left:247.7px;top:685.9px;width:391.30000000000007px;height:1.2px;background:#b3c6d9;"></div>
<div style="position:absolute;left:648.8px;top:407.6px;width:392.0px;height:299.69999999999993px;background:#fff;border:1px solid #d8dbe0;border-radius:6px;box-sizing:border-box;box-shadow:0 2px 3px rgba(0,0,0,0.12);"></div>
<div style="position:absolute;left:658.00px;top:415.62px;line-height:16.62px;font-size:14.45px;color:#2b3856;font-weight:normal;white-space:nowrap;">Net Revenue (Previous Month)</div>
<div style="position:absolute;left:654.0px;top:438.0px;width:92.6px;height:2px;background:#6fb22a;"></div>
<div style="position:absolute;left:702.7px;top:460.5px;width:1px;height:188.0px;background:#cccccc;"></div>
<div style="position:absolute;left:697.7px;top:460.0px;width:5px;height:1px;background:#cccccc;"></div>
<div style="position:absolute;left:697.7px;top:522.5px;width:5px;height:1px;background:#cccccc;"></div>
<div style="position:absolute;left:697.7px;top:585.4px;width:5px;height:1px;background:#cccccc;"></div>
<div style="position:absolute;left:697.7px;top:648.0px;width:5px;height:1px;background:#cccccc;"></div>
<div style="position:absolute;left:702.7px;top:648.0px;width:275.19999999999993px;height:1px;background:#cccccc;"></div>
<div style="position:absolute;left:702.7px;top:648.0px;width:1px;height:6px;background:#cccccc;"></div>
<div style="position:absolute;left:748.4000000000001px;top:648.0px;width:1px;height:6px;background:#cccccc;"></div>
<div style="position:absolute;left:794.1px;top:648.0px;width:1px;height:6px;background:#cccccc;"></div>
<div style="position:absolute;left:839.8px;top:648.0px;width:1px;height:6px;background:#cccccc;"></div>
<div style="position:absolute;left:885.5px;top:648.0px;width:1px;height:6px;background:#cccccc;"></div>
<div style="position:absolute;left:931.2px;top:648.0px;width:1px;height:6px;background:#cccccc;"></div>
<div style="position:absolute;left:976.9px;top:648.0px;width:1px;height:6px;background:#cccccc;"></div>
<div style="position:absolute;left:703.7px;top:471.2px;width:229.5px;height:40.400000000000034px;background:#63c3c3;"></div>
<div style="position:absolute;right:572.60px;top:484.73px;line-height:14.32px;font-size:12.45px;color:#ffffff;font-weight:normal;white-space:nowrap;text-align:right;-webkit-text-stroke:0.3px #fff;">25,284,486</div>
<div style="position:absolute;right:803.30px;top:484.18px;line-height:14.37px;font-size:12.5px;color:#404040;font-weight:normal;white-space:nowrap;text-align:right;">LP</div>
<div style="position:absolute;left:703.7px;top:533.9px;width:219.29999999999995px;height:40.0px;background:#6e5996;"></div>
<div style="position:absolute;right:582.80px;top:547.23px;line-height:14.32px;font-size:12.45px;color:#ffffff;font-weight:normal;white-space:nowrap;text-align:right;-webkit-text-stroke:0.3px #fff;">24,155,824</div>
<div style="position:absolute;right:803.30px;top:547.58px;line-height:14.37px;font-size:12.5px;color:#404040;font-weight:normal;white-space:nowrap;text-align:right;">CP</div>
<div style="position:absolute;left:703.7px;top:596.5px;width:230.19999999999993px;height:40.200000000000045px;background:#f2bb36;"></div>
<div style="position:absolute;right:571.90px;top:609.93px;line-height:14.32px;font-size:12.45px;color:#ffffff;font-weight:normal;white-space:nowrap;text-align:right;-webkit-text-stroke:0.3px #fff;">25,328,609</div>
<div style="position:absolute;right:803.30px;top:610.68px;line-height:14.37px;font-size:12.5px;color:#404040;font-weight:normal;white-space:nowrap;text-align:right;">SDLP</div>
<div style="position:absolute;right:471.40px;top:515.63px;line-height:13.80px;font-size:12px;color:#cf2420;font-weight:bold;white-space:nowrap;text-align:right;">-4.46%</div>
<div style="position:absolute;right:471.40px;top:591.83px;line-height:13.80px;font-size:12px;color:#cf2420;font-weight:bold;white-space:nowrap;text-align:right;">-4.63%</div>
<div style="position:absolute;left:653.20px;top:660.62px;width:100px;line-height:14.20px;font-size:12.35px;color:#666666;font-weight:normal;white-space:nowrap;text-align:center;">0</div>
<div style="position:absolute;left:744.60px;top:660.62px;width:100px;line-height:14.20px;font-size:12.35px;color:#666666;font-weight:normal;white-space:nowrap;text-align:center;">10,000,000</div>
<div style="position:absolute;right:522.40px;top:660.62px;line-height:14.20px;font-size:12.35px;color:#666666;font-weight:normal;white-space:nowrap;text-align:right;">30,000,000</div>
<div style="position:absolute;left:651.0px;top:683.8px;width:387.6px;height:1.2px;background:#b3c6d9;"></div>
<div style="position:absolute;left:1048.3px;top:407.6px;width:391.70000000000005px;height:299.69999999999993px;background:#fff;border:1px solid #d8dbe0;border-radius:6px;box-sizing:border-box;box-shadow:0 2px 3px rgba(0,0,0,0.12);"></div>
<div style="position:absolute;left:1057.50px;top:415.62px;line-height:16.62px;font-size:14.45px;color:#2b3856;font-weight:normal;white-space:nowrap;">Net Revenue (YTD)</div>
<div style="position:absolute;left:1053.5px;top:438.0px;width:92.6px;height:2px;background:#6fb22a;"></div>
<div style="position:absolute;left:1102.7px;top:460.5px;width:1px;height:188.0px;background:#cccccc;"></div>
<div style="position:absolute;left:1097.7px;top:460.0px;width:5px;height:1px;background:#cccccc;"></div>
<div style="position:absolute;left:1097.7px;top:522.5px;width:5px;height:1px;background:#cccccc;"></div>
<div style="position:absolute;left:1097.7px;top:585.4px;width:5px;height:1px;background:#cccccc;"></div>
<div style="position:absolute;left:1097.7px;top:648.0px;width:5px;height:1px;background:#cccccc;"></div>
<div style="position:absolute;left:1102.7px;top:648.0px;width:274.0px;height:1px;background:#cccccc;"></div>
<div style="position:absolute;left:1102.7px;top:648.0px;width:1px;height:6px;background:#cccccc;"></div>
<div style="position:absolute;left:1148.2px;top:648.0px;width:1px;height:6px;background:#cccccc;"></div>
<div style="position:absolute;left:1193.7px;top:648.0px;width:1px;height:6px;background:#cccccc;"></div>
<div style="position:absolute;left:1239.2px;top:648.0px;width:1px;height:6px;background:#cccccc;"></div>
<div style="position:absolute;left:1284.7px;top:648.0px;width:1px;height:6px;background:#cccccc;"></div>
<div style="position:absolute;left:1330.2px;top:648.0px;width:1px;height:6px;background:#cccccc;"></div>
<div style="position:absolute;left:1375.7px;top:648.0px;width:1px;height:6px;background:#cccccc;"></div>
<div style="position:absolute;left:1103.7px;top:471.2px;width:212.79999999999995px;height:40.400000000000034px;background:#63c3c3;"></div>
<div style="position:absolute;right:189.30px;top:484.73px;line-height:14.32px;font-size:12.45px;color:#ffffff;font-weight:normal;white-space:nowrap;text-align:right;-webkit-text-stroke:0.3px #fff;">23,538,641</div>
<div style="position:absolute;right:403.30px;top:484.18px;line-height:14.37px;font-size:12.5px;color:#404040;font-weight:normal;white-space:nowrap;text-align:right;">LP</div>
<div style="position:absolute;left:1103.7px;top:533.9px;width:207.5999999999999px;height:40.0px;background:#6e5996;"></div>
<div style="position:absolute;right:194.50px;top:547.23px;line-height:14.32px;font-size:12.45px;color:#ffffff;font-weight:normal;white-space:nowrap;text-align:right;-webkit-text-stroke:0.3px #fff;">22,998,326</div>
<div style="position:absolute;right:403.30px;top:547.58px;line-height:14.37px;font-size:12.5px;color:#404040;font-weight:normal;white-space:nowrap;text-align:right;">CP</div>
<div style="position:absolute;left:1103.7px;top:596.5px;width:218.29999999999995px;height:40.200000000000045px;background:#f2bb36;"></div>
<div style="position:absolute;right:183.80px;top:609.93px;line-height:14.32px;font-size:12.45px;color:#ffffff;font-weight:normal;white-space:nowrap;text-align:right;-webkit-text-stroke:0.3px #fff;">24,166,567</div>
<div style="position:absolute;right:403.30px;top:610.68px;line-height:14.37px;font-size:12.5px;color:#404040;font-weight:normal;white-space:nowrap;text-align:right;">SDLP</div>
<div style="position:absolute;right:72.20px;top:515.63px;line-height:13.80px;font-size:12px;color:#cf2420;font-weight:bold;white-space:nowrap;text-align:right;">-2.30%</div>
<div style="position:absolute;right:72.20px;top:591.83px;line-height:13.80px;font-size:12px;color:#cf2420;font-weight:bold;white-space:nowrap;text-align:right;">-4.83%</div>
<div style="position:absolute;left:1053.20px;top:660.62px;width:100px;line-height:14.20px;font-size:12.35px;color:#666666;font-weight:normal;white-space:nowrap;text-align:center;">0</div>
<div style="position:absolute;left:1144.20px;top:660.62px;width:100px;line-height:14.20px;font-size:12.35px;color:#666666;font-weight:normal;white-space:nowrap;text-align:center;">10,000,000</div>
<div style="position:absolute;right:123.60px;top:660.62px;line-height:14.20px;font-size:12.35px;color:#666666;font-weight:normal;white-space:nowrap;text-align:right;">30,000,000</div>
<div style="position:absolute;left:1050.5px;top:683.8px;width:387.30000000000007px;height:1.2px;background:#b3c6d9;"></div>
</body></html>
